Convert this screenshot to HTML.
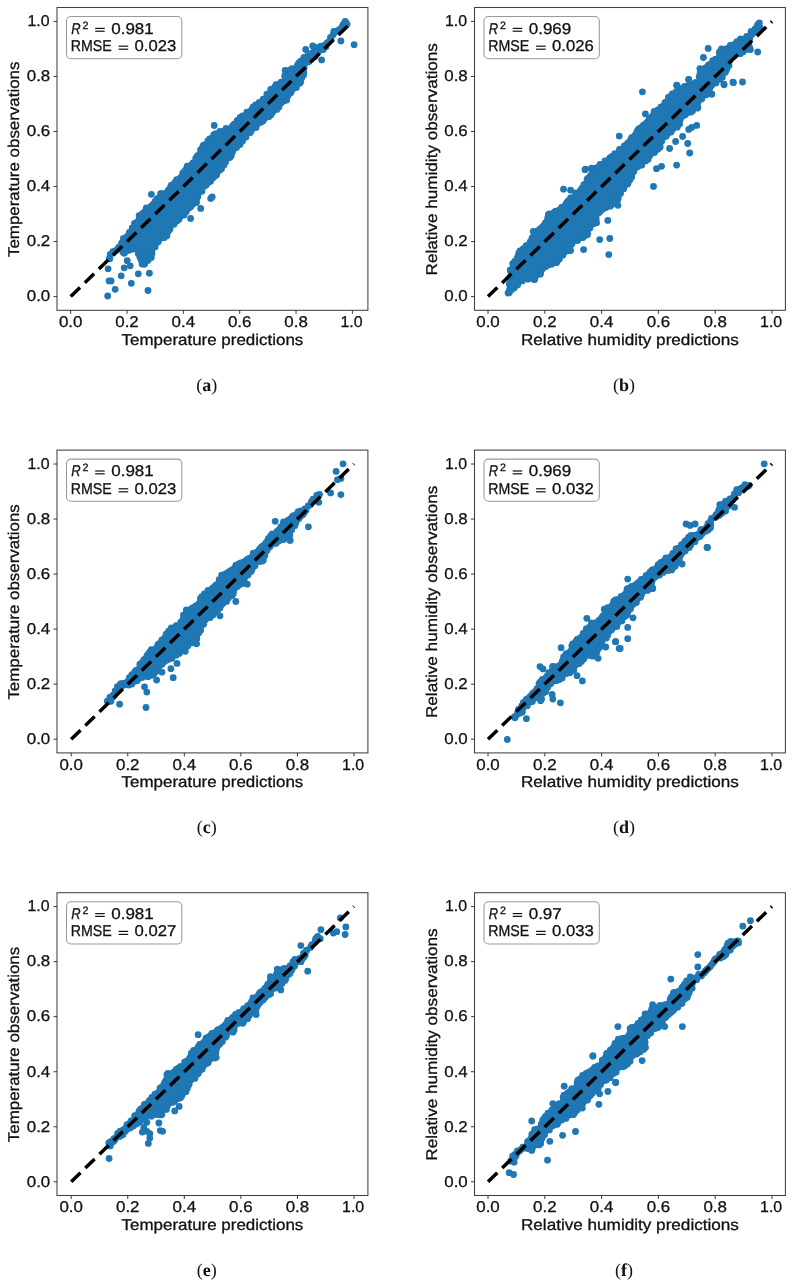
<!DOCTYPE html>
<html><head><meta charset="utf-8"><style>
html,body{margin:0;padding:0;background:#fff;width:795px;height:1283px;overflow:hidden}
svg{display:block;will-change:transform}
</style></head><body>
<svg width="795" height="1283" viewBox="0 0 795 1283" text-rendering="geometricPrecision">
<rect width="795" height="1283" fill="#fff"/>
<clipPath id="cpa"><rect x="57.0" y="7.5" width="310.90" height="302.80"/></clipPath>
<g clip-path="url(#cpa)">
<polygon points="105.7,256.7 111.1,249.7 117.2,242.6 120.2,237.6 126.2,231.6 129.2,226.5 133.3,220.5 137.3,213.5 140.3,209.4 148.4,202.4 152.4,198.4 158.4,191.3 164.5,188.3 167.5,183.3 173.5,178.2 178.5,173.2 182.6,166.2 188.6,161.1 192.1,158.7 200.1,144.6 206.2,136.5 212.2,132.5 220.2,127.5 228.3,124.5 236.3,116.4 244.4,110.4 248.4,106.3 260.5,98.3 266.5,90.2 272.6,82.2 280.6,78.2 282.1,68.9 287.7,66.1 293.2,64.7 297.4,57.8 302.9,55.0 311.2,48.1 312.6,42.6 318.1,43.3 323.6,40.5 330.6,35.7 331.3,28.8 337.5,26.0 343.0,19.1 348.6,21.8 349.9,23.2 344.4,28.8 334.7,38.4 330.6,45.4 325.0,52.3 319.5,56.4 315.3,60.6 308.4,66.1 307.0,77.2 302.9,84.1 296.0,92.4 287.7,103.5 280.0,110.0 274.6,116.4 264.5,124.5 256.5,130.5 250.4,136.5 244.4,144.6 238.4,150.6 232.3,158.7 224.3,170.7 218.2,178.8 210.2,186.8 206.7,190.0 202.7,195.0 199.7,204.4 192.6,210.4 186.6,216.5 180.6,222.5 174.5,228.5 170.5,236.6 162.4,242.6 156.4,250.7 154.4,258.7 148.4,264.8 142.3,268.8 137.3,260.8 135.3,252.7 130.2,254.7 124.2,256.7 118.2,252.7 112.1,256.7 107.1,260.7" fill="#1f77b4" stroke="#fff" stroke-width="2.4" stroke-linejoin="round"/>
<circle cx="109.4" cy="258.5" r="3.4" fill="#1f77b4"/>
<circle cx="113.2" cy="253.0" r="3.4" fill="#1f77b4"/>
<circle cx="115.6" cy="250.7" r="3.4" fill="#1f77b4"/>
<circle cx="118.7" cy="247.3" r="3.4" fill="#1f77b4"/>
<circle cx="121.6" cy="243.2" r="3.4" fill="#1f77b4"/>
<circle cx="123.4" cy="238.3" r="3.4" fill="#1f77b4"/>
<circle cx="127.1" cy="236.3" r="3.4" fill="#1f77b4"/>
<circle cx="129.3" cy="232.5" r="3.4" fill="#1f77b4"/>
<circle cx="132.2" cy="227.9" r="3.4" fill="#1f77b4"/>
<circle cx="134.5" cy="223.4" r="3.4" fill="#1f77b4"/>
<circle cx="137.2" cy="222.1" r="3.4" fill="#1f77b4"/>
<circle cx="139.1" cy="215.7" r="3.4" fill="#1f77b4"/>
<circle cx="141.8" cy="214.1" r="3.4" fill="#1f77b4"/>
<circle cx="146.6" cy="209.1" r="3.4" fill="#1f77b4"/>
<circle cx="146.3" cy="207.9" r="3.4" fill="#1f77b4"/>
<circle cx="155.2" cy="201.4" r="3.4" fill="#1f77b4"/>
<circle cx="157.0" cy="199.0" r="3.4" fill="#1f77b4"/>
<circle cx="160.6" cy="193.7" r="3.4" fill="#1f77b4"/>
<circle cx="161.5" cy="193.6" r="3.4" fill="#1f77b4"/>
<circle cx="168.4" cy="190.3" r="3.4" fill="#1f77b4"/>
<circle cx="171.1" cy="185.5" r="3.4" fill="#1f77b4"/>
<circle cx="175.0" cy="182.3" r="3.4" fill="#1f77b4"/>
<circle cx="176.6" cy="179.7" r="3.4" fill="#1f77b4"/>
<circle cx="182.7" cy="173.2" r="3.4" fill="#1f77b4"/>
<circle cx="184.5" cy="171.5" r="3.4" fill="#1f77b4"/>
<circle cx="187.2" cy="166.1" r="3.4" fill="#1f77b4"/>
<circle cx="188.5" cy="166.7" r="3.4" fill="#1f77b4"/>
<circle cx="192.9" cy="163.0" r="3.4" fill="#1f77b4"/>
<circle cx="195.8" cy="158.2" r="3.4" fill="#1f77b4"/>
<circle cx="197.5" cy="155.7" r="3.4" fill="#1f77b4"/>
<circle cx="200.5" cy="149.9" r="3.4" fill="#1f77b4"/>
<circle cx="202.8" cy="146.4" r="3.4" fill="#1f77b4"/>
<circle cx="203.6" cy="145.1" r="3.4" fill="#1f77b4"/>
<circle cx="208.0" cy="140.9" r="3.4" fill="#1f77b4"/>
<circle cx="209.7" cy="138.8" r="3.4" fill="#1f77b4"/>
<circle cx="213.7" cy="135.0" r="3.4" fill="#1f77b4"/>
<circle cx="215.6" cy="133.6" r="3.4" fill="#1f77b4"/>
<circle cx="219.8" cy="131.4" r="3.4" fill="#1f77b4"/>
<circle cx="225.6" cy="129.8" r="3.4" fill="#1f77b4"/>
<circle cx="226.1" cy="128.3" r="3.4" fill="#1f77b4"/>
<circle cx="232.3" cy="126.2" r="3.4" fill="#1f77b4"/>
<circle cx="234.1" cy="124.1" r="3.4" fill="#1f77b4"/>
<circle cx="237.3" cy="120.3" r="3.4" fill="#1f77b4"/>
<circle cx="240.2" cy="117.3" r="3.4" fill="#1f77b4"/>
<circle cx="242.6" cy="116.0" r="3.4" fill="#1f77b4"/>
<circle cx="246.9" cy="112.1" r="3.4" fill="#1f77b4"/>
<circle cx="253.1" cy="106.9" r="3.4" fill="#1f77b4"/>
<circle cx="255.6" cy="105.0" r="3.4" fill="#1f77b4"/>
<circle cx="259.0" cy="104.2" r="3.4" fill="#1f77b4"/>
<circle cx="259.2" cy="102.3" r="3.4" fill="#1f77b4"/>
<circle cx="263.2" cy="99.1" r="3.4" fill="#1f77b4"/>
<circle cx="266.9" cy="94.2" r="3.4" fill="#1f77b4"/>
<circle cx="270.7" cy="89.4" r="3.4" fill="#1f77b4"/>
<circle cx="272.9" cy="88.8" r="3.4" fill="#1f77b4"/>
<circle cx="276.0" cy="84.7" r="3.4" fill="#1f77b4"/>
<circle cx="281.2" cy="82.2" r="3.4" fill="#1f77b4"/>
<circle cx="284.7" cy="75.9" r="3.4" fill="#1f77b4"/>
<circle cx="285.2" cy="70.5" r="3.4" fill="#1f77b4"/>
<circle cx="286.3" cy="70.8" r="3.4" fill="#1f77b4"/>
<circle cx="291.9" cy="68.7" r="3.4" fill="#1f77b4"/>
<circle cx="297.3" cy="65.4" r="3.4" fill="#1f77b4"/>
<circle cx="298.8" cy="62.9" r="3.4" fill="#1f77b4"/>
<circle cx="303.9" cy="57.4" r="3.4" fill="#1f77b4"/>
<circle cx="307.4" cy="56.2" r="3.4" fill="#1f77b4"/>
<circle cx="310.7" cy="53.6" r="3.4" fill="#1f77b4"/>
<circle cx="314.9" cy="48.1" r="3.4" fill="#1f77b4"/>
<circle cx="312.7" cy="45.9" r="3.4" fill="#1f77b4"/>
<circle cx="320.3" cy="46.4" r="3.4" fill="#1f77b4"/>
<circle cx="328.9" cy="41.8" r="3.4" fill="#1f77b4"/>
<circle cx="331.1" cy="38.9" r="3.4" fill="#1f77b4"/>
<circle cx="333.9" cy="31.3" r="3.4" fill="#1f77b4"/>
<circle cx="334.3" cy="31.3" r="3.4" fill="#1f77b4"/>
<circle cx="342.4" cy="26.2" r="3.4" fill="#1f77b4"/>
<circle cx="345.2" cy="21.4" r="3.4" fill="#1f77b4"/>
<circle cx="343.6" cy="23.8" r="3.4" fill="#1f77b4"/>
<circle cx="347.0" cy="24.2" r="3.4" fill="#1f77b4"/>
<circle cx="345.8" cy="22.8" r="3.4" fill="#1f77b4"/>
<circle cx="343.2" cy="25.0" r="3.4" fill="#1f77b4"/>
<circle cx="339.9" cy="29.1" r="3.4" fill="#1f77b4"/>
<circle cx="337.2" cy="30.8" r="3.4" fill="#1f77b4"/>
<circle cx="333.3" cy="34.5" r="3.4" fill="#1f77b4"/>
<circle cx="330.5" cy="37.3" r="3.4" fill="#1f77b4"/>
<circle cx="327.2" cy="42.9" r="3.4" fill="#1f77b4"/>
<circle cx="325.9" cy="46.8" r="3.4" fill="#1f77b4"/>
<circle cx="323.1" cy="49.7" r="3.4" fill="#1f77b4"/>
<circle cx="317.8" cy="52.3" r="3.4" fill="#1f77b4"/>
<circle cx="314.9" cy="56.8" r="3.4" fill="#1f77b4"/>
<circle cx="311.3" cy="58.7" r="3.4" fill="#1f77b4"/>
<circle cx="308.3" cy="61.9" r="3.4" fill="#1f77b4"/>
<circle cx="304.2" cy="67.4" r="3.4" fill="#1f77b4"/>
<circle cx="303.8" cy="72.2" r="3.4" fill="#1f77b4"/>
<circle cx="303.5" cy="75.1" r="3.4" fill="#1f77b4"/>
<circle cx="301.5" cy="78.2" r="3.4" fill="#1f77b4"/>
<circle cx="300.6" cy="81.9" r="3.4" fill="#1f77b4"/>
<circle cx="299.8" cy="83.2" r="3.4" fill="#1f77b4"/>
<circle cx="296.4" cy="87.5" r="3.4" fill="#1f77b4"/>
<circle cx="290.8" cy="92.7" r="3.4" fill="#1f77b4"/>
<circle cx="287.2" cy="97.1" r="3.4" fill="#1f77b4"/>
<circle cx="286.7" cy="99.9" r="3.4" fill="#1f77b4"/>
<circle cx="284.5" cy="100.7" r="3.4" fill="#1f77b4"/>
<circle cx="279.0" cy="107.1" r="3.4" fill="#1f77b4"/>
<circle cx="276.8" cy="109.4" r="3.4" fill="#1f77b4"/>
<circle cx="272.4" cy="112.5" r="3.4" fill="#1f77b4"/>
<circle cx="270.8" cy="115.1" r="3.4" fill="#1f77b4"/>
<circle cx="268.8" cy="116.7" r="3.4" fill="#1f77b4"/>
<circle cx="263.2" cy="120.7" r="3.4" fill="#1f77b4"/>
<circle cx="261.4" cy="122.0" r="3.4" fill="#1f77b4"/>
<circle cx="256.1" cy="127.5" r="3.4" fill="#1f77b4"/>
<circle cx="251.4" cy="130.3" r="3.4" fill="#1f77b4"/>
<circle cx="250.4" cy="132.5" r="3.4" fill="#1f77b4"/>
<circle cx="246.0" cy="137.1" r="3.4" fill="#1f77b4"/>
<circle cx="242.5" cy="141.1" r="3.4" fill="#1f77b4"/>
<circle cx="240.0" cy="144.4" r="3.4" fill="#1f77b4"/>
<circle cx="236.6" cy="147.4" r="3.4" fill="#1f77b4"/>
<circle cx="232.3" cy="152.2" r="3.4" fill="#1f77b4"/>
<circle cx="231.2" cy="155.8" r="3.4" fill="#1f77b4"/>
<circle cx="229.9" cy="157.5" r="3.4" fill="#1f77b4"/>
<circle cx="225.6" cy="162.0" r="3.4" fill="#1f77b4"/>
<circle cx="224.0" cy="165.0" r="3.4" fill="#1f77b4"/>
<circle cx="221.5" cy="168.8" r="3.4" fill="#1f77b4"/>
<circle cx="219.8" cy="170.1" r="3.4" fill="#1f77b4"/>
<circle cx="216.6" cy="175.0" r="3.4" fill="#1f77b4"/>
<circle cx="213.6" cy="177.2" r="3.4" fill="#1f77b4"/>
<circle cx="210.6" cy="181.2" r="3.4" fill="#1f77b4"/>
<circle cx="208.7" cy="182.1" r="3.4" fill="#1f77b4"/>
<circle cx="205.9" cy="185.3" r="3.4" fill="#1f77b4"/>
<circle cx="201.9" cy="191.2" r="3.4" fill="#1f77b4"/>
<circle cx="197.8" cy="196.5" r="3.4" fill="#1f77b4"/>
<circle cx="196.5" cy="202.6" r="3.4" fill="#1f77b4"/>
<circle cx="195.4" cy="202.6" r="3.4" fill="#1f77b4"/>
<circle cx="191.1" cy="206.3" r="3.4" fill="#1f77b4"/>
<circle cx="189.7" cy="207.6" r="3.4" fill="#1f77b4"/>
<circle cx="186.2" cy="211.8" r="3.4" fill="#1f77b4"/>
<circle cx="183.9" cy="215.2" r="3.4" fill="#1f77b4"/>
<circle cx="179.0" cy="219.2" r="3.4" fill="#1f77b4"/>
<circle cx="177.2" cy="220.8" r="3.4" fill="#1f77b4"/>
<circle cx="174.1" cy="224.2" r="3.4" fill="#1f77b4"/>
<circle cx="169.9" cy="229.2" r="3.4" fill="#1f77b4"/>
<circle cx="168.4" cy="231.0" r="3.4" fill="#1f77b4"/>
<circle cx="166.9" cy="235.8" r="3.4" fill="#1f77b4"/>
<circle cx="164.1" cy="237.7" r="3.4" fill="#1f77b4"/>
<circle cx="158.3" cy="241.7" r="3.4" fill="#1f77b4"/>
<circle cx="155.1" cy="246.9" r="3.4" fill="#1f77b4"/>
<circle cx="152.0" cy="253.4" r="3.4" fill="#1f77b4"/>
<circle cx="151.3" cy="257.5" r="3.4" fill="#1f77b4"/>
<circle cx="149.2" cy="258.5" r="3.4" fill="#1f77b4"/>
<circle cx="147.9" cy="260.6" r="3.4" fill="#1f77b4"/>
<circle cx="144.7" cy="264.0" r="3.4" fill="#1f77b4"/>
<circle cx="142.1" cy="264.1" r="3.4" fill="#1f77b4"/>
<circle cx="144.0" cy="264.1" r="3.4" fill="#1f77b4"/>
<circle cx="141.2" cy="260.0" r="3.4" fill="#1f77b4"/>
<circle cx="140.0" cy="257.2" r="3.4" fill="#1f77b4"/>
<circle cx="138.3" cy="253.7" r="3.4" fill="#1f77b4"/>
<circle cx="133.7" cy="249.1" r="3.4" fill="#1f77b4"/>
<circle cx="124.2" cy="253.4" r="3.4" fill="#1f77b4"/>
<circle cx="123.7" cy="252.4" r="3.4" fill="#1f77b4"/>
<circle cx="122.8" cy="251.9" r="3.4" fill="#1f77b4"/>
<circle cx="113.6" cy="251.8" r="3.4" fill="#1f77b4"/>
<circle cx="112.9" cy="251.6" r="3.4" fill="#1f77b4"/>
<circle cx="110.2" cy="254.4" r="3.4" fill="#1f77b4"/>
<circle cx="109.8" cy="258.8" r="3.4" fill="#1f77b4"/>
<circle cx="108.1" cy="268.8" r="3.4" fill="#1f77b4"/>
<circle cx="109.1" cy="280.9" r="3.4" fill="#1f77b4"/>
<circle cx="111.1" cy="280.9" r="3.4" fill="#1f77b4"/>
<circle cx="121.2" cy="275.8" r="3.4" fill="#1f77b4"/>
<circle cx="115.2" cy="289.3" r="3.4" fill="#1f77b4"/>
<circle cx="107.7" cy="296.0" r="3.4" fill="#1f77b4"/>
<circle cx="131.3" cy="283.3" r="3.4" fill="#1f77b4"/>
<circle cx="138.3" cy="273.8" r="3.4" fill="#1f77b4"/>
<circle cx="149.4" cy="273.2" r="3.4" fill="#1f77b4"/>
<circle cx="148.0" cy="290.5" r="3.4" fill="#1f77b4"/>
<circle cx="124.2" cy="267.8" r="3.4" fill="#1f77b4"/>
<circle cx="127.2" cy="260.7" r="3.4" fill="#1f77b4"/>
<circle cx="130.2" cy="265.8" r="3.4" fill="#1f77b4"/>
<circle cx="151.4" cy="194.3" r="3.4" fill="#1f77b4"/>
<circle cx="210.7" cy="198.4" r="3.4" fill="#1f77b4"/>
<circle cx="190.6" cy="218.5" r="3.4" fill="#1f77b4"/>
<circle cx="200.7" cy="208.4" r="3.4" fill="#1f77b4"/>
<circle cx="214.2" cy="125.5" r="3.4" fill="#1f77b4"/>
<circle cx="212.2" cy="196.9" r="3.4" fill="#1f77b4"/>
<circle cx="305.7" cy="49.5" r="3.4" fill="#1f77b4"/>
<circle cx="340.9" cy="40.9" r="3.4" fill="#1f77b4"/>
<circle cx="354.1" cy="44.7" r="3.4" fill="#1f77b4"/>
<circle cx="321.6" cy="59.9" r="3.4" fill="#1f77b4"/>
<line x1="70.70" y1="296.60" x2="352.40" y2="21.40" stroke="#000" stroke-width="3.5" stroke-dasharray="13 6.7"/>
</g>
<rect x="57.0" y="7.5" width="310.90" height="302.80" fill="none" stroke="#404040" stroke-width="1.05"/>
<line x1="70.70" y1="310.30" x2="70.70" y2="313.80" stroke="#222" stroke-width="0.9"/>
<line x1="53.50" y1="296.60" x2="57.00" y2="296.60" stroke="#222" stroke-width="0.9"/>
<text x="70.70" y="326.90" text-anchor="middle" font-size="15.6" fill="#111" stroke="#111" stroke-width="0.3" font-family="Liberation Sans, sans-serif" textLength="23.5" lengthAdjust="spacingAndGlyphs">0.0</text>
<text x="50.26" y="301.40" text-anchor="end" font-size="15.6" fill="#111" stroke="#111" stroke-width="0.3" font-family="Liberation Sans, sans-serif" textLength="23.5" lengthAdjust="spacingAndGlyphs">0.0</text>
<line x1="127.04" y1="310.30" x2="127.04" y2="313.80" stroke="#222" stroke-width="0.9"/>
<line x1="53.50" y1="241.56" x2="57.00" y2="241.56" stroke="#222" stroke-width="0.9"/>
<text x="127.04" y="326.90" text-anchor="middle" font-size="15.6" fill="#111" stroke="#111" stroke-width="0.3" font-family="Liberation Sans, sans-serif" textLength="23.5" lengthAdjust="spacingAndGlyphs">0.2</text>
<text x="50.26" y="246.36" text-anchor="end" font-size="15.6" fill="#111" stroke="#111" stroke-width="0.3" font-family="Liberation Sans, sans-serif" textLength="23.5" lengthAdjust="spacingAndGlyphs">0.2</text>
<line x1="183.38" y1="310.30" x2="183.38" y2="313.80" stroke="#222" stroke-width="0.9"/>
<line x1="53.50" y1="186.52" x2="57.00" y2="186.52" stroke="#222" stroke-width="0.9"/>
<text x="183.38" y="326.90" text-anchor="middle" font-size="15.6" fill="#111" stroke="#111" stroke-width="0.3" font-family="Liberation Sans, sans-serif" textLength="23.5" lengthAdjust="spacingAndGlyphs">0.4</text>
<text x="50.26" y="191.32" text-anchor="end" font-size="15.6" fill="#111" stroke="#111" stroke-width="0.3" font-family="Liberation Sans, sans-serif" textLength="23.5" lengthAdjust="spacingAndGlyphs">0.4</text>
<line x1="239.72" y1="310.30" x2="239.72" y2="313.80" stroke="#222" stroke-width="0.9"/>
<line x1="53.50" y1="131.48" x2="57.00" y2="131.48" stroke="#222" stroke-width="0.9"/>
<text x="239.72" y="326.90" text-anchor="middle" font-size="15.6" fill="#111" stroke="#111" stroke-width="0.3" font-family="Liberation Sans, sans-serif" textLength="23.5" lengthAdjust="spacingAndGlyphs">0.6</text>
<text x="50.26" y="136.28" text-anchor="end" font-size="15.6" fill="#111" stroke="#111" stroke-width="0.3" font-family="Liberation Sans, sans-serif" textLength="23.5" lengthAdjust="spacingAndGlyphs">0.6</text>
<line x1="296.06" y1="310.30" x2="296.06" y2="313.80" stroke="#222" stroke-width="0.9"/>
<line x1="53.50" y1="76.44" x2="57.00" y2="76.44" stroke="#222" stroke-width="0.9"/>
<text x="296.06" y="326.90" text-anchor="middle" font-size="15.6" fill="#111" stroke="#111" stroke-width="0.3" font-family="Liberation Sans, sans-serif" textLength="23.5" lengthAdjust="spacingAndGlyphs">0.8</text>
<text x="50.26" y="81.24" text-anchor="end" font-size="15.6" fill="#111" stroke="#111" stroke-width="0.3" font-family="Liberation Sans, sans-serif" textLength="23.5" lengthAdjust="spacingAndGlyphs">0.8</text>
<line x1="352.40" y1="310.30" x2="352.40" y2="313.80" stroke="#222" stroke-width="0.9"/>
<line x1="53.50" y1="21.40" x2="57.00" y2="21.40" stroke="#222" stroke-width="0.9"/>
<text x="351.50" y="326.90" text-anchor="middle" font-size="15.6" fill="#111" stroke="#111" stroke-width="0.3" font-family="Liberation Sans, sans-serif" textLength="22.1" lengthAdjust="spacingAndGlyphs">1.0</text>
<text x="49.60" y="26.20" text-anchor="end" font-size="15.6" fill="#111" stroke="#111" stroke-width="0.3" font-family="Liberation Sans, sans-serif" textLength="22.1" lengthAdjust="spacingAndGlyphs">1.0</text>
<text x="212.45" y="344.80" text-anchor="middle" font-size="15.6" fill="#111" stroke="#111" stroke-width="0.3" font-family="Liberation Sans, sans-serif" textLength="181.7" lengthAdjust="spacingAndGlyphs">Temperature predictions</text>
<text transform="translate(19.00,159.30) rotate(-90)" text-anchor="middle" font-size="15.6" fill="#111" stroke="#111" stroke-width="0.3" font-family="Liberation Sans, sans-serif" textLength="195.4" lengthAdjust="spacingAndGlyphs">Temperature observations</text>
<rect x="66.50" y="16.50" width="115.3" height="42.2" rx="4.5" fill="#fff" fill-opacity="0.8" stroke="#999" stroke-width="1.05"/>
<text x="71.20" y="33.50" font-size="15.6" font-style="italic" fill="#111" stroke="#111" stroke-width="0.3" font-family="Liberation Sans, sans-serif" textLength="9.4" lengthAdjust="spacingAndGlyphs">R</text>
<text x="82.40" y="28.80" font-size="10.7" fill="#111" stroke="#111" stroke-width="0.3" font-family="Liberation Sans, sans-serif">2</text>
<rect x="95.20" y="27.80" width="9.5" height="1.2" fill="#111"/>
<rect x="95.20" y="30.60" width="9.5" height="1.2" fill="#111"/>
<text x="111.24" y="33.50" font-size="15.6" fill="#111" stroke="#111" stroke-width="0.3" font-family="Liberation Sans, sans-serif" textLength="42.49" lengthAdjust="spacingAndGlyphs">0.981</text>
<text x="70.63" y="51.10" font-size="15.6" fill="#111" stroke="#111" stroke-width="0.3" font-family="Liberation Sans, sans-serif" textLength="41.07" lengthAdjust="spacingAndGlyphs">RMSE</text>
<rect x="118.60" y="45.60" width="9.6" height="1.2" fill="#111"/>
<rect x="118.60" y="48.60" width="9.6" height="1.2" fill="#111"/>
<text x="134.55" y="51.10" font-size="15.6" fill="#111" stroke="#111" stroke-width="0.3" font-family="Liberation Sans, sans-serif" textLength="41.69" lengthAdjust="spacingAndGlyphs">0.023</text>
<text x="206.70" y="390.80" text-anchor="middle" font-size="18" fill="#111" font-family="Liberation Serif, serif">(<tspan font-weight="bold">a</tspan>)</text>
<clipPath id="cpb"><rect x="474.5" y="7.5" width="310.90" height="302.80"/></clipPath>
<g clip-path="url(#cpb)">
<polygon points="505.2,294.9 506.2,280.8 507.2,270.7 510.2,261.7 515.2,252.6 520.2,246.6 526.3,240.6 530.3,232.5 536.4,226.5 542.4,220.4 546.4,212.4 552.4,208.4 560.5,204.3 564.5,198.3 572.6,192.3 580.6,184.2 584.6,176.2 590.0,168.0 598.1,162.6 608.2,154.6 614.2,150.6 622.3,142.5 628.3,136.5 634.3,128.4 640.4,122.4 646.4,116.4 652.4,108.3 660.5,104.3 664.5,98.2 668.5,92.2 676.6,88.2 682.6,84.1 688.7,80.1 695.8,78.6 698.5,68.9 705.4,62.0 715.1,55.0 716.5,48.1 726.2,44.0 733.1,39.8 738.7,36.4 745.6,33.6 749.7,28.8 756.6,21.8 760.8,21.8 764.9,27.4 760.8,32.9 753.9,38.4 751.1,49.5 744.2,55.0 734.5,60.6 730.3,68.9 726.2,77.2 719.3,84.1 712.4,91.0 708.2,96.6 702.7,102.1 699.9,110.4 692.7,114.3 684.6,120.4 680.6,128.4 674.6,132.5 666.5,140.5 662.5,148.5 654.5,156.6 646.4,164.6 637.5,172.5 633.0,182.5 624.9,192.3 618.9,204.3 608.8,210.4 600.7,216.4 598.7,226.5 592.7,228.5 590.7,236.5 584.6,240.6 576.6,244.6 570.6,252.6 564.5,258.7 556.5,264.7 548.4,268.7 542.4,276.8 534.3,282.8 524.3,282.8 516.2,290.9 512.2,294.9 508.2,296.9" fill="#1f77b4" stroke="#fff" stroke-width="2.4" stroke-linejoin="round"/>
<circle cx="509.1" cy="292.2" r="3.4" fill="#1f77b4"/>
<circle cx="509.7" cy="289.4" r="3.4" fill="#1f77b4"/>
<circle cx="509.2" cy="284.1" r="3.4" fill="#1f77b4"/>
<circle cx="509.8" cy="277.5" r="3.4" fill="#1f77b4"/>
<circle cx="510.6" cy="271.3" r="3.4" fill="#1f77b4"/>
<circle cx="510.3" cy="269.9" r="3.4" fill="#1f77b4"/>
<circle cx="512.7" cy="263.7" r="3.4" fill="#1f77b4"/>
<circle cx="514.7" cy="261.5" r="3.4" fill="#1f77b4"/>
<circle cx="517.6" cy="257.1" r="3.4" fill="#1f77b4"/>
<circle cx="518.7" cy="253.5" r="3.4" fill="#1f77b4"/>
<circle cx="520.0" cy="251.0" r="3.4" fill="#1f77b4"/>
<circle cx="523.1" cy="248.8" r="3.4" fill="#1f77b4"/>
<circle cx="526.1" cy="245.7" r="3.4" fill="#1f77b4"/>
<circle cx="530.2" cy="241.8" r="3.4" fill="#1f77b4"/>
<circle cx="532.0" cy="238.2" r="3.4" fill="#1f77b4"/>
<circle cx="536.2" cy="232.8" r="3.4" fill="#1f77b4"/>
<circle cx="537.6" cy="231.0" r="3.4" fill="#1f77b4"/>
<circle cx="540.0" cy="229.0" r="3.4" fill="#1f77b4"/>
<circle cx="545.1" cy="223.2" r="3.4" fill="#1f77b4"/>
<circle cx="547.7" cy="218.2" r="3.4" fill="#1f77b4"/>
<circle cx="549.3" cy="214.0" r="3.4" fill="#1f77b4"/>
<circle cx="548.3" cy="214.7" r="3.4" fill="#1f77b4"/>
<circle cx="554.3" cy="212.1" r="3.4" fill="#1f77b4"/>
<circle cx="555.7" cy="211.1" r="3.4" fill="#1f77b4"/>
<circle cx="561.6" cy="207.4" r="3.4" fill="#1f77b4"/>
<circle cx="564.7" cy="205.9" r="3.4" fill="#1f77b4"/>
<circle cx="566.8" cy="202.6" r="3.4" fill="#1f77b4"/>
<circle cx="568.1" cy="201.0" r="3.4" fill="#1f77b4"/>
<circle cx="570.6" cy="197.8" r="3.4" fill="#1f77b4"/>
<circle cx="575.7" cy="193.0" r="3.4" fill="#1f77b4"/>
<circle cx="580.5" cy="190.4" r="3.4" fill="#1f77b4"/>
<circle cx="581.8" cy="188.5" r="3.4" fill="#1f77b4"/>
<circle cx="583.9" cy="184.6" r="3.4" fill="#1f77b4"/>
<circle cx="587.1" cy="179.1" r="3.4" fill="#1f77b4"/>
<circle cx="588.5" cy="178.2" r="3.4" fill="#1f77b4"/>
<circle cx="593.1" cy="170.1" r="3.4" fill="#1f77b4"/>
<circle cx="595.5" cy="168.2" r="3.4" fill="#1f77b4"/>
<circle cx="597.9" cy="167.3" r="3.4" fill="#1f77b4"/>
<circle cx="600.0" cy="164.5" r="3.4" fill="#1f77b4"/>
<circle cx="605.0" cy="160.9" r="3.4" fill="#1f77b4"/>
<circle cx="609.7" cy="158.2" r="3.4" fill="#1f77b4"/>
<circle cx="611.4" cy="156.7" r="3.4" fill="#1f77b4"/>
<circle cx="614.8" cy="153.6" r="3.4" fill="#1f77b4"/>
<circle cx="619.2" cy="151.4" r="3.4" fill="#1f77b4"/>
<circle cx="619.5" cy="149.4" r="3.4" fill="#1f77b4"/>
<circle cx="624.3" cy="145.8" r="3.4" fill="#1f77b4"/>
<circle cx="627.8" cy="143.2" r="3.4" fill="#1f77b4"/>
<circle cx="630.5" cy="140.4" r="3.4" fill="#1f77b4"/>
<circle cx="631.6" cy="137.6" r="3.4" fill="#1f77b4"/>
<circle cx="637.1" cy="131.2" r="3.4" fill="#1f77b4"/>
<circle cx="638.6" cy="128.8" r="3.4" fill="#1f77b4"/>
<circle cx="641.0" cy="127.7" r="3.4" fill="#1f77b4"/>
<circle cx="643.5" cy="125.2" r="3.4" fill="#1f77b4"/>
<circle cx="649.0" cy="119.9" r="3.4" fill="#1f77b4"/>
<circle cx="649.4" cy="118.4" r="3.4" fill="#1f77b4"/>
<circle cx="654.2" cy="111.4" r="3.4" fill="#1f77b4"/>
<circle cx="657.9" cy="109.8" r="3.4" fill="#1f77b4"/>
<circle cx="661.0" cy="107.0" r="3.4" fill="#1f77b4"/>
<circle cx="664.8" cy="103.0" r="3.4" fill="#1f77b4"/>
<circle cx="665.9" cy="102.1" r="3.4" fill="#1f77b4"/>
<circle cx="668.3" cy="97.5" r="3.4" fill="#1f77b4"/>
<circle cx="670.8" cy="96.2" r="3.4" fill="#1f77b4"/>
<circle cx="672.3" cy="93.9" r="3.4" fill="#1f77b4"/>
<circle cx="676.1" cy="91.7" r="3.4" fill="#1f77b4"/>
<circle cx="678.8" cy="90.8" r="3.4" fill="#1f77b4"/>
<circle cx="682.4" cy="88.6" r="3.4" fill="#1f77b4"/>
<circle cx="684.5" cy="86.3" r="3.4" fill="#1f77b4"/>
<circle cx="690.0" cy="84.1" r="3.4" fill="#1f77b4"/>
<circle cx="690.0" cy="84.0" r="3.4" fill="#1f77b4"/>
<circle cx="695.8" cy="82.5" r="3.4" fill="#1f77b4"/>
<circle cx="699.2" cy="76.7" r="3.4" fill="#1f77b4"/>
<circle cx="700.1" cy="73.0" r="3.4" fill="#1f77b4"/>
<circle cx="704.4" cy="68.8" r="3.4" fill="#1f77b4"/>
<circle cx="705.1" cy="68.1" r="3.4" fill="#1f77b4"/>
<circle cx="708.7" cy="65.0" r="3.4" fill="#1f77b4"/>
<circle cx="712.8" cy="60.7" r="3.4" fill="#1f77b4"/>
<circle cx="715.7" cy="59.2" r="3.4" fill="#1f77b4"/>
<circle cx="719.3" cy="52.3" r="3.4" fill="#1f77b4"/>
<circle cx="721.5" cy="49.0" r="3.4" fill="#1f77b4"/>
<circle cx="724.8" cy="49.3" r="3.4" fill="#1f77b4"/>
<circle cx="730.3" cy="45.5" r="3.4" fill="#1f77b4"/>
<circle cx="731.7" cy="45.3" r="3.4" fill="#1f77b4"/>
<circle cx="736.9" cy="41.6" r="3.4" fill="#1f77b4"/>
<circle cx="740.6" cy="38.8" r="3.4" fill="#1f77b4"/>
<circle cx="746.7" cy="36.5" r="3.4" fill="#1f77b4"/>
<circle cx="751.1" cy="31.5" r="3.4" fill="#1f77b4"/>
<circle cx="755.3" cy="28.7" r="3.4" fill="#1f77b4"/>
<circle cx="757.8" cy="25.5" r="3.4" fill="#1f77b4"/>
<circle cx="757.7" cy="24.6" r="3.4" fill="#1f77b4"/>
<circle cx="759.8" cy="27.6" r="3.4" fill="#1f77b4"/>
<circle cx="759.8" cy="27.8" r="3.4" fill="#1f77b4"/>
<circle cx="757.7" cy="30.8" r="3.4" fill="#1f77b4"/>
<circle cx="751.8" cy="34.6" r="3.4" fill="#1f77b4"/>
<circle cx="749.7" cy="39.2" r="3.4" fill="#1f77b4"/>
<circle cx="748.6" cy="44.1" r="3.4" fill="#1f77b4"/>
<circle cx="749.2" cy="46.1" r="3.4" fill="#1f77b4"/>
<circle cx="746.7" cy="49.4" r="3.4" fill="#1f77b4"/>
<circle cx="743.2" cy="51.7" r="3.4" fill="#1f77b4"/>
<circle cx="740.5" cy="53.5" r="3.4" fill="#1f77b4"/>
<circle cx="738.9" cy="53.8" r="3.4" fill="#1f77b4"/>
<circle cx="733.7" cy="56.6" r="3.4" fill="#1f77b4"/>
<circle cx="730.0" cy="60.2" r="3.4" fill="#1f77b4"/>
<circle cx="729.0" cy="65.6" r="3.4" fill="#1f77b4"/>
<circle cx="727.0" cy="69.0" r="3.4" fill="#1f77b4"/>
<circle cx="725.4" cy="72.2" r="3.4" fill="#1f77b4"/>
<circle cx="722.3" cy="77.3" r="3.4" fill="#1f77b4"/>
<circle cx="720.0" cy="79.3" r="3.4" fill="#1f77b4"/>
<circle cx="716.0" cy="82.9" r="3.4" fill="#1f77b4"/>
<circle cx="710.0" cy="87.7" r="3.4" fill="#1f77b4"/>
<circle cx="706.3" cy="94.7" r="3.4" fill="#1f77b4"/>
<circle cx="705.1" cy="94.9" r="3.4" fill="#1f77b4"/>
<circle cx="701.9" cy="98.8" r="3.4" fill="#1f77b4"/>
<circle cx="698.4" cy="101.5" r="3.4" fill="#1f77b4"/>
<circle cx="697.9" cy="107.4" r="3.4" fill="#1f77b4"/>
<circle cx="697.3" cy="108.2" r="3.4" fill="#1f77b4"/>
<circle cx="692.5" cy="110.9" r="3.4" fill="#1f77b4"/>
<circle cx="690.6" cy="112.2" r="3.4" fill="#1f77b4"/>
<circle cx="685.3" cy="114.8" r="3.4" fill="#1f77b4"/>
<circle cx="680.2" cy="119.6" r="3.4" fill="#1f77b4"/>
<circle cx="679.6" cy="124.0" r="3.4" fill="#1f77b4"/>
<circle cx="677.2" cy="127.2" r="3.4" fill="#1f77b4"/>
<circle cx="672.9" cy="128.9" r="3.4" fill="#1f77b4"/>
<circle cx="671.1" cy="132.0" r="3.4" fill="#1f77b4"/>
<circle cx="667.2" cy="134.2" r="3.4" fill="#1f77b4"/>
<circle cx="666.2" cy="136.3" r="3.4" fill="#1f77b4"/>
<circle cx="661.8" cy="141.0" r="3.4" fill="#1f77b4"/>
<circle cx="660.2" cy="146.8" r="3.4" fill="#1f77b4"/>
<circle cx="659.6" cy="147.5" r="3.4" fill="#1f77b4"/>
<circle cx="657.8" cy="149.3" r="3.4" fill="#1f77b4"/>
<circle cx="654.5" cy="152.5" r="3.4" fill="#1f77b4"/>
<circle cx="649.9" cy="155.4" r="3.4" fill="#1f77b4"/>
<circle cx="648.1" cy="159.2" r="3.4" fill="#1f77b4"/>
<circle cx="645.8" cy="160.9" r="3.4" fill="#1f77b4"/>
<circle cx="641.8" cy="164.9" r="3.4" fill="#1f77b4"/>
<circle cx="640.7" cy="165.2" r="3.4" fill="#1f77b4"/>
<circle cx="637.5" cy="166.7" r="3.4" fill="#1f77b4"/>
<circle cx="633.8" cy="171.5" r="3.4" fill="#1f77b4"/>
<circle cx="631.7" cy="177.1" r="3.4" fill="#1f77b4"/>
<circle cx="630.0" cy="179.7" r="3.4" fill="#1f77b4"/>
<circle cx="628.0" cy="183.2" r="3.4" fill="#1f77b4"/>
<circle cx="627.4" cy="184.2" r="3.4" fill="#1f77b4"/>
<circle cx="623.8" cy="188.8" r="3.4" fill="#1f77b4"/>
<circle cx="620.5" cy="193.4" r="3.4" fill="#1f77b4"/>
<circle cx="618.2" cy="198.6" r="3.4" fill="#1f77b4"/>
<circle cx="617.5" cy="199.9" r="3.4" fill="#1f77b4"/>
<circle cx="615.1" cy="202.5" r="3.4" fill="#1f77b4"/>
<circle cx="612.1" cy="204.5" r="3.4" fill="#1f77b4"/>
<circle cx="610.2" cy="206.2" r="3.4" fill="#1f77b4"/>
<circle cx="606.1" cy="207.6" r="3.4" fill="#1f77b4"/>
<circle cx="599.2" cy="212.6" r="3.4" fill="#1f77b4"/>
<circle cx="596.1" cy="219.3" r="3.4" fill="#1f77b4"/>
<circle cx="596.6" cy="222.7" r="3.4" fill="#1f77b4"/>
<circle cx="593.6" cy="223.8" r="3.4" fill="#1f77b4"/>
<circle cx="590.0" cy="227.9" r="3.4" fill="#1f77b4"/>
<circle cx="587.1" cy="233.3" r="3.4" fill="#1f77b4"/>
<circle cx="587.5" cy="234.7" r="3.4" fill="#1f77b4"/>
<circle cx="585.2" cy="235.6" r="3.4" fill="#1f77b4"/>
<circle cx="583.0" cy="237.5" r="3.4" fill="#1f77b4"/>
<circle cx="577.6" cy="240.5" r="3.4" fill="#1f77b4"/>
<circle cx="571.7" cy="244.2" r="3.4" fill="#1f77b4"/>
<circle cx="569.4" cy="248.8" r="3.4" fill="#1f77b4"/>
<circle cx="567.7" cy="250.8" r="3.4" fill="#1f77b4"/>
<circle cx="562.8" cy="255.2" r="3.4" fill="#1f77b4"/>
<circle cx="559.4" cy="259.0" r="3.4" fill="#1f77b4"/>
<circle cx="557.7" cy="260.4" r="3.4" fill="#1f77b4"/>
<circle cx="551.7" cy="264.2" r="3.4" fill="#1f77b4"/>
<circle cx="548.5" cy="264.9" r="3.4" fill="#1f77b4"/>
<circle cx="545.6" cy="266.7" r="3.4" fill="#1f77b4"/>
<circle cx="540.3" cy="273.3" r="3.4" fill="#1f77b4"/>
<circle cx="540.3" cy="274.2" r="3.4" fill="#1f77b4"/>
<circle cx="534.8" cy="279.1" r="3.4" fill="#1f77b4"/>
<circle cx="534.3" cy="279.7" r="3.4" fill="#1f77b4"/>
<circle cx="528.0" cy="279.2" r="3.4" fill="#1f77b4"/>
<circle cx="522.2" cy="280.9" r="3.4" fill="#1f77b4"/>
<circle cx="517.7" cy="284.8" r="3.4" fill="#1f77b4"/>
<circle cx="514.4" cy="287.7" r="3.4" fill="#1f77b4"/>
<circle cx="511.8" cy="289.4" r="3.4" fill="#1f77b4"/>
<circle cx="508.1" cy="293.0" r="3.4" fill="#1f77b4"/>
<circle cx="509.0" cy="292.7" r="3.4" fill="#1f77b4"/>
<circle cx="563.5" cy="189.2" r="3.4" fill="#1f77b4"/>
<circle cx="570.6" cy="190.2" r="3.4" fill="#1f77b4"/>
<circle cx="585.7" cy="169.1" r="3.4" fill="#1f77b4"/>
<circle cx="591.7" cy="168.1" r="3.4" fill="#1f77b4"/>
<circle cx="533.3" cy="231.5" r="3.4" fill="#1f77b4"/>
<circle cx="607.8" cy="220.4" r="3.4" fill="#1f77b4"/>
<circle cx="599.7" cy="239.6" r="3.4" fill="#1f77b4"/>
<circle cx="609.8" cy="238.5" r="3.4" fill="#1f77b4"/>
<circle cx="608.8" cy="254.6" r="3.4" fill="#1f77b4"/>
<circle cx="583.6" cy="249.6" r="3.4" fill="#1f77b4"/>
<circle cx="570.6" cy="250.6" r="3.4" fill="#1f77b4"/>
<circle cx="556.5" cy="262.7" r="3.4" fill="#1f77b4"/>
<circle cx="617.9" cy="205.3" r="3.4" fill="#1f77b4"/>
<circle cx="642.4" cy="91.8" r="3.4" fill="#1f77b4"/>
<circle cx="619.2" cy="136.1" r="3.4" fill="#1f77b4"/>
<circle cx="676.6" cy="85.2" r="3.4" fill="#1f77b4"/>
<circle cx="688.7" cy="79.5" r="3.4" fill="#1f77b4"/>
<circle cx="645.4" cy="113.9" r="3.4" fill="#1f77b4"/>
<circle cx="592.1" cy="168.7" r="3.4" fill="#1f77b4"/>
<circle cx="585.0" cy="169.7" r="3.4" fill="#1f77b4"/>
<circle cx="732.9" cy="82.1" r="3.4" fill="#1f77b4"/>
<circle cx="723.9" cy="84.1" r="3.4" fill="#1f77b4"/>
<circle cx="711.8" cy="94.2" r="3.4" fill="#1f77b4"/>
<circle cx="696.7" cy="125.4" r="3.4" fill="#1f77b4"/>
<circle cx="691.7" cy="127.4" r="3.4" fill="#1f77b4"/>
<circle cx="688.7" cy="129.4" r="3.4" fill="#1f77b4"/>
<circle cx="675.6" cy="141.5" r="3.4" fill="#1f77b4"/>
<circle cx="687.7" cy="143.5" r="3.4" fill="#1f77b4"/>
<circle cx="689.7" cy="153.0" r="3.4" fill="#1f77b4"/>
<circle cx="676.6" cy="165.1" r="3.4" fill="#1f77b4"/>
<circle cx="661.5" cy="166.3" r="3.4" fill="#1f77b4"/>
<circle cx="656.5" cy="168.7" r="3.4" fill="#1f77b4"/>
<circle cx="653.5" cy="186.4" r="3.4" fill="#1f77b4"/>
<circle cx="669.6" cy="148.5" r="3.4" fill="#1f77b4"/>
<circle cx="682.6" cy="136.5" r="3.4" fill="#1f77b4"/>
<circle cx="708.2" cy="48.4" r="3.4" fill="#1f77b4"/>
<circle cx="703.4" cy="57.5" r="3.4" fill="#1f77b4"/>
<circle cx="688.8" cy="79.7" r="3.4" fill="#1f77b4"/>
<circle cx="677.1" cy="85.5" r="3.4" fill="#1f77b4"/>
<circle cx="699.9" cy="68.6" r="3.4" fill="#1f77b4"/>
<circle cx="759.4" cy="22.9" r="3.4" fill="#1f77b4"/>
<circle cx="757.7" cy="52.0" r="3.4" fill="#1f77b4"/>
<circle cx="733.4" cy="82.7" r="3.4" fill="#1f77b4"/>
<circle cx="742.5" cy="82.0" r="3.4" fill="#1f77b4"/>
<circle cx="724.1" cy="84.8" r="3.4" fill="#1f77b4"/>
<circle cx="711.7" cy="93.8" r="3.4" fill="#1f77b4"/>
<circle cx="750.4" cy="49.5" r="3.4" fill="#1f77b4"/>
<line x1="488.00" y1="296.60" x2="772.00" y2="21.40" stroke="#000" stroke-width="3.5" stroke-dasharray="13 6.7"/>
</g>
<rect x="474.5" y="7.5" width="310.90" height="302.80" fill="none" stroke="#404040" stroke-width="1.05"/>
<line x1="488.00" y1="310.30" x2="488.00" y2="313.80" stroke="#222" stroke-width="0.9"/>
<line x1="471.00" y1="296.60" x2="474.50" y2="296.60" stroke="#222" stroke-width="0.9"/>
<text x="488.00" y="326.90" text-anchor="middle" font-size="15.6" fill="#111" stroke="#111" stroke-width="0.3" font-family="Liberation Sans, sans-serif" textLength="23.5" lengthAdjust="spacingAndGlyphs">0.0</text>
<text x="467.76" y="301.40" text-anchor="end" font-size="15.6" fill="#111" stroke="#111" stroke-width="0.3" font-family="Liberation Sans, sans-serif" textLength="23.5" lengthAdjust="spacingAndGlyphs">0.0</text>
<line x1="544.80" y1="310.30" x2="544.80" y2="313.80" stroke="#222" stroke-width="0.9"/>
<line x1="471.00" y1="241.56" x2="474.50" y2="241.56" stroke="#222" stroke-width="0.9"/>
<text x="544.80" y="326.90" text-anchor="middle" font-size="15.6" fill="#111" stroke="#111" stroke-width="0.3" font-family="Liberation Sans, sans-serif" textLength="23.5" lengthAdjust="spacingAndGlyphs">0.2</text>
<text x="467.76" y="246.36" text-anchor="end" font-size="15.6" fill="#111" stroke="#111" stroke-width="0.3" font-family="Liberation Sans, sans-serif" textLength="23.5" lengthAdjust="spacingAndGlyphs">0.2</text>
<line x1="601.60" y1="310.30" x2="601.60" y2="313.80" stroke="#222" stroke-width="0.9"/>
<line x1="471.00" y1="186.52" x2="474.50" y2="186.52" stroke="#222" stroke-width="0.9"/>
<text x="601.60" y="326.90" text-anchor="middle" font-size="15.6" fill="#111" stroke="#111" stroke-width="0.3" font-family="Liberation Sans, sans-serif" textLength="23.5" lengthAdjust="spacingAndGlyphs">0.4</text>
<text x="467.76" y="191.32" text-anchor="end" font-size="15.6" fill="#111" stroke="#111" stroke-width="0.3" font-family="Liberation Sans, sans-serif" textLength="23.5" lengthAdjust="spacingAndGlyphs">0.4</text>
<line x1="658.40" y1="310.30" x2="658.40" y2="313.80" stroke="#222" stroke-width="0.9"/>
<line x1="471.00" y1="131.48" x2="474.50" y2="131.48" stroke="#222" stroke-width="0.9"/>
<text x="658.40" y="326.90" text-anchor="middle" font-size="15.6" fill="#111" stroke="#111" stroke-width="0.3" font-family="Liberation Sans, sans-serif" textLength="23.5" lengthAdjust="spacingAndGlyphs">0.6</text>
<text x="467.76" y="136.28" text-anchor="end" font-size="15.6" fill="#111" stroke="#111" stroke-width="0.3" font-family="Liberation Sans, sans-serif" textLength="23.5" lengthAdjust="spacingAndGlyphs">0.6</text>
<line x1="715.20" y1="310.30" x2="715.20" y2="313.80" stroke="#222" stroke-width="0.9"/>
<line x1="471.00" y1="76.44" x2="474.50" y2="76.44" stroke="#222" stroke-width="0.9"/>
<text x="715.20" y="326.90" text-anchor="middle" font-size="15.6" fill="#111" stroke="#111" stroke-width="0.3" font-family="Liberation Sans, sans-serif" textLength="23.5" lengthAdjust="spacingAndGlyphs">0.8</text>
<text x="467.76" y="81.24" text-anchor="end" font-size="15.6" fill="#111" stroke="#111" stroke-width="0.3" font-family="Liberation Sans, sans-serif" textLength="23.5" lengthAdjust="spacingAndGlyphs">0.8</text>
<line x1="772.00" y1="310.30" x2="772.00" y2="313.80" stroke="#222" stroke-width="0.9"/>
<line x1="471.00" y1="21.40" x2="474.50" y2="21.40" stroke="#222" stroke-width="0.9"/>
<text x="771.10" y="326.90" text-anchor="middle" font-size="15.6" fill="#111" stroke="#111" stroke-width="0.3" font-family="Liberation Sans, sans-serif" textLength="22.1" lengthAdjust="spacingAndGlyphs">1.0</text>
<text x="467.10" y="26.20" text-anchor="end" font-size="15.6" fill="#111" stroke="#111" stroke-width="0.3" font-family="Liberation Sans, sans-serif" textLength="22.1" lengthAdjust="spacingAndGlyphs">1.0</text>
<text x="629.95" y="344.80" text-anchor="middle" font-size="15.6" fill="#111" stroke="#111" stroke-width="0.3" font-family="Liberation Sans, sans-serif" textLength="218.0" lengthAdjust="spacingAndGlyphs">Relative humidity predictions</text>
<text transform="translate(436.50,159.30) rotate(-90)" text-anchor="middle" font-size="15.6" fill="#111" stroke="#111" stroke-width="0.3" font-family="Liberation Sans, sans-serif" textLength="232.3" lengthAdjust="spacingAndGlyphs">Relative humidity observations</text>
<rect x="484.00" y="16.50" width="115.3" height="42.2" rx="4.5" fill="#fff" fill-opacity="0.8" stroke="#999" stroke-width="1.05"/>
<text x="488.70" y="33.50" font-size="15.6" font-style="italic" fill="#111" stroke="#111" stroke-width="0.3" font-family="Liberation Sans, sans-serif" textLength="9.4" lengthAdjust="spacingAndGlyphs">R</text>
<text x="499.90" y="28.80" font-size="10.7" fill="#111" stroke="#111" stroke-width="0.3" font-family="Liberation Sans, sans-serif">2</text>
<rect x="512.70" y="27.80" width="9.5" height="1.2" fill="#111"/>
<rect x="512.70" y="30.60" width="9.5" height="1.2" fill="#111"/>
<text x="528.74" y="33.50" font-size="15.6" fill="#111" stroke="#111" stroke-width="0.3" font-family="Liberation Sans, sans-serif" textLength="42.49" lengthAdjust="spacingAndGlyphs">0.969</text>
<text x="488.13" y="51.10" font-size="15.6" fill="#111" stroke="#111" stroke-width="0.3" font-family="Liberation Sans, sans-serif" textLength="41.07" lengthAdjust="spacingAndGlyphs">RMSE</text>
<rect x="536.10" y="45.60" width="9.6" height="1.2" fill="#111"/>
<rect x="536.10" y="48.60" width="9.6" height="1.2" fill="#111"/>
<text x="552.05" y="51.10" font-size="15.6" fill="#111" stroke="#111" stroke-width="0.3" font-family="Liberation Sans, sans-serif" textLength="41.69" lengthAdjust="spacingAndGlyphs">0.026</text>
<text x="624.00" y="390.80" text-anchor="middle" font-size="18" fill="#111" font-family="Liberation Serif, serif">(<tspan font-weight="bold">b</tspan>)</text>
<clipPath id="cpc"><rect x="57.0" y="450.1" width="310.90" height="302.80"/></clipPath>
<g clip-path="url(#cpc)">
<polygon points="106.0,696.6 110.6,692.1 118.1,680.0 124.2,678.5 130.2,670.9 136.2,664.9 142.3,655.8 146.8,648.3 152.8,645.3 160.4,636.2 163.4,631.7 169.4,625.7 177.0,621.1 181.5,612.1 184.5,607.5 195.1,601.5 201.1,592.5 208.7,586.4 216.2,578.9 220.8,571.3 226.8,568.3 234.3,562.3 241.9,557.7 249.4,553.2 255.5,547.2 261.5,541.1 265.5,535.8 272.5,530.3 280.8,523.3 289.1,513.7 293.2,510.9 301.5,506.7 307.0,502.6 312.6,495.7 316.7,491.5 322.0,492.0 320.9,497.0 315.3,502.6 309.8,509.5 308.4,515.0 301.5,522.0 296.0,529.5 291.7,537.0 285.7,542.6 279.6,545.7 273.8,548.0 268.0,556.0 266.0,563.8 258.5,565.3 254.0,572.8 249.4,578.9 246.4,584.9 240.4,587.9 235.8,595.5 226.8,606.0 222.3,610.6 213.2,618.5 207.0,624.0 202.6,633.2 198.1,643.8 190.6,646.8 186.0,652.8 178.5,657.4 170.9,663.4 164.9,666.4 160.4,672.5 154.3,678.5 145.3,680.0 137.7,684.5 130.2,687.5 122.6,690.6 115.1,699.6 109.1,705.7" fill="#1f77b4" stroke="#fff" stroke-width="2.4" stroke-linejoin="round"/>
<circle cx="113.2" cy="695.1" r="3.4" fill="#1f77b4"/>
<circle cx="115.2" cy="691.0" r="3.4" fill="#1f77b4"/>
<circle cx="117.4" cy="686.6" r="3.4" fill="#1f77b4"/>
<circle cx="120.3" cy="684.4" r="3.4" fill="#1f77b4"/>
<circle cx="121.0" cy="683.6" r="3.4" fill="#1f77b4"/>
<circle cx="129.4" cy="677.7" r="3.4" fill="#1f77b4"/>
<circle cx="131.9" cy="674.6" r="3.4" fill="#1f77b4"/>
<circle cx="134.5" cy="672.4" r="3.4" fill="#1f77b4"/>
<circle cx="135.8" cy="670.4" r="3.4" fill="#1f77b4"/>
<circle cx="139.9" cy="664.2" r="3.4" fill="#1f77b4"/>
<circle cx="142.3" cy="662.4" r="3.4" fill="#1f77b4"/>
<circle cx="143.9" cy="659.6" r="3.4" fill="#1f77b4"/>
<circle cx="147.0" cy="655.7" r="3.4" fill="#1f77b4"/>
<circle cx="148.7" cy="653.5" r="3.4" fill="#1f77b4"/>
<circle cx="151.3" cy="649.6" r="3.4" fill="#1f77b4"/>
<circle cx="157.7" cy="645.2" r="3.4" fill="#1f77b4"/>
<circle cx="158.7" cy="643.9" r="3.4" fill="#1f77b4"/>
<circle cx="161.9" cy="639.8" r="3.4" fill="#1f77b4"/>
<circle cx="166.1" cy="634.1" r="3.4" fill="#1f77b4"/>
<circle cx="168.6" cy="631.5" r="3.4" fill="#1f77b4"/>
<circle cx="169.1" cy="630.8" r="3.4" fill="#1f77b4"/>
<circle cx="171.3" cy="627.9" r="3.4" fill="#1f77b4"/>
<circle cx="176.2" cy="625.7" r="3.4" fill="#1f77b4"/>
<circle cx="180.8" cy="622.1" r="3.4" fill="#1f77b4"/>
<circle cx="183.4" cy="615.1" r="3.4" fill="#1f77b4"/>
<circle cx="186.4" cy="609.8" r="3.4" fill="#1f77b4"/>
<circle cx="186.6" cy="610.7" r="3.4" fill="#1f77b4"/>
<circle cx="192.6" cy="607.8" r="3.4" fill="#1f77b4"/>
<circle cx="195.9" cy="605.9" r="3.4" fill="#1f77b4"/>
<circle cx="198.7" cy="603.8" r="3.4" fill="#1f77b4"/>
<circle cx="200.4" cy="598.3" r="3.4" fill="#1f77b4"/>
<circle cx="201.9" cy="596.6" r="3.4" fill="#1f77b4"/>
<circle cx="204.4" cy="593.9" r="3.4" fill="#1f77b4"/>
<circle cx="208.0" cy="590.3" r="3.4" fill="#1f77b4"/>
<circle cx="212.7" cy="588.0" r="3.4" fill="#1f77b4"/>
<circle cx="215.5" cy="585.4" r="3.4" fill="#1f77b4"/>
<circle cx="219.2" cy="579.7" r="3.4" fill="#1f77b4"/>
<circle cx="221.7" cy="575.2" r="3.4" fill="#1f77b4"/>
<circle cx="228.0" cy="572.6" r="3.4" fill="#1f77b4"/>
<circle cx="230.2" cy="571.0" r="3.4" fill="#1f77b4"/>
<circle cx="235.9" cy="565.1" r="3.4" fill="#1f77b4"/>
<circle cx="238.9" cy="564.0" r="3.4" fill="#1f77b4"/>
<circle cx="240.8" cy="562.9" r="3.4" fill="#1f77b4"/>
<circle cx="247.3" cy="559.5" r="3.4" fill="#1f77b4"/>
<circle cx="249.2" cy="558.4" r="3.4" fill="#1f77b4"/>
<circle cx="253.2" cy="553.2" r="3.4" fill="#1f77b4"/>
<circle cx="255.7" cy="553.0" r="3.4" fill="#1f77b4"/>
<circle cx="259.8" cy="548.9" r="3.4" fill="#1f77b4"/>
<circle cx="261.8" cy="546.6" r="3.4" fill="#1f77b4"/>
<circle cx="268.3" cy="538.6" r="3.4" fill="#1f77b4"/>
<circle cx="270.6" cy="535.9" r="3.4" fill="#1f77b4"/>
<circle cx="272.2" cy="533.8" r="3.4" fill="#1f77b4"/>
<circle cx="277.0" cy="531.3" r="3.4" fill="#1f77b4"/>
<circle cx="279.0" cy="529.8" r="3.4" fill="#1f77b4"/>
<circle cx="280.8" cy="526.9" r="3.4" fill="#1f77b4"/>
<circle cx="282.9" cy="525.1" r="3.4" fill="#1f77b4"/>
<circle cx="287.8" cy="520.5" r="3.4" fill="#1f77b4"/>
<circle cx="290.0" cy="519.1" r="3.4" fill="#1f77b4"/>
<circle cx="292.9" cy="515.9" r="3.4" fill="#1f77b4"/>
<circle cx="298.1" cy="511.6" r="3.4" fill="#1f77b4"/>
<circle cx="300.8" cy="510.9" r="3.4" fill="#1f77b4"/>
<circle cx="304.8" cy="509.0" r="3.4" fill="#1f77b4"/>
<circle cx="310.4" cy="504.8" r="3.4" fill="#1f77b4"/>
<circle cx="312.6" cy="501.0" r="3.4" fill="#1f77b4"/>
<circle cx="319.5" cy="494.3" r="3.4" fill="#1f77b4"/>
<circle cx="317.1" cy="495.1" r="3.4" fill="#1f77b4"/>
<circle cx="316.8" cy="495.7" r="3.4" fill="#1f77b4"/>
<circle cx="318.1" cy="495.6" r="3.4" fill="#1f77b4"/>
<circle cx="313.1" cy="499.1" r="3.4" fill="#1f77b4"/>
<circle cx="311.5" cy="501.7" r="3.4" fill="#1f77b4"/>
<circle cx="308.2" cy="506.0" r="3.4" fill="#1f77b4"/>
<circle cx="306.0" cy="510.3" r="3.4" fill="#1f77b4"/>
<circle cx="303.0" cy="514.5" r="3.4" fill="#1f77b4"/>
<circle cx="299.0" cy="518.3" r="3.4" fill="#1f77b4"/>
<circle cx="295.7" cy="523.3" r="3.4" fill="#1f77b4"/>
<circle cx="294.8" cy="525.8" r="3.4" fill="#1f77b4"/>
<circle cx="291.6" cy="530.1" r="3.4" fill="#1f77b4"/>
<circle cx="289.7" cy="535.1" r="3.4" fill="#1f77b4"/>
<circle cx="289.2" cy="535.5" r="3.4" fill="#1f77b4"/>
<circle cx="284.1" cy="538.8" r="3.4" fill="#1f77b4"/>
<circle cx="283.5" cy="539.6" r="3.4" fill="#1f77b4"/>
<circle cx="275.8" cy="543.4" r="3.4" fill="#1f77b4"/>
<circle cx="270.1" cy="546.6" r="3.4" fill="#1f77b4"/>
<circle cx="266.9" cy="550.4" r="3.4" fill="#1f77b4"/>
<circle cx="264.9" cy="555.6" r="3.4" fill="#1f77b4"/>
<circle cx="262.5" cy="561.1" r="3.4" fill="#1f77b4"/>
<circle cx="263.4" cy="559.9" r="3.4" fill="#1f77b4"/>
<circle cx="259.7" cy="561.6" r="3.4" fill="#1f77b4"/>
<circle cx="255.0" cy="565.7" r="3.4" fill="#1f77b4"/>
<circle cx="252.1" cy="569.2" r="3.4" fill="#1f77b4"/>
<circle cx="251.1" cy="571.5" r="3.4" fill="#1f77b4"/>
<circle cx="248.1" cy="574.9" r="3.4" fill="#1f77b4"/>
<circle cx="244.3" cy="583.2" r="3.4" fill="#1f77b4"/>
<circle cx="240.4" cy="584.3" r="3.4" fill="#1f77b4"/>
<circle cx="237.5" cy="586.5" r="3.4" fill="#1f77b4"/>
<circle cx="233.3" cy="593.5" r="3.4" fill="#1f77b4"/>
<circle cx="232.2" cy="595.6" r="3.4" fill="#1f77b4"/>
<circle cx="228.5" cy="597.9" r="3.4" fill="#1f77b4"/>
<circle cx="226.6" cy="601.4" r="3.4" fill="#1f77b4"/>
<circle cx="220.0" cy="608.1" r="3.4" fill="#1f77b4"/>
<circle cx="217.9" cy="609.3" r="3.4" fill="#1f77b4"/>
<circle cx="216.9" cy="611.8" r="3.4" fill="#1f77b4"/>
<circle cx="213.2" cy="614.8" r="3.4" fill="#1f77b4"/>
<circle cx="210.2" cy="617.6" r="3.4" fill="#1f77b4"/>
<circle cx="205.3" cy="619.8" r="3.4" fill="#1f77b4"/>
<circle cx="203.6" cy="624.3" r="3.4" fill="#1f77b4"/>
<circle cx="200.6" cy="630.2" r="3.4" fill="#1f77b4"/>
<circle cx="199.0" cy="632.8" r="3.4" fill="#1f77b4"/>
<circle cx="196.8" cy="638.7" r="3.4" fill="#1f77b4"/>
<circle cx="194.4" cy="641.5" r="3.4" fill="#1f77b4"/>
<circle cx="194.3" cy="642.5" r="3.4" fill="#1f77b4"/>
<circle cx="192.3" cy="642.9" r="3.4" fill="#1f77b4"/>
<circle cx="187.7" cy="645.9" r="3.4" fill="#1f77b4"/>
<circle cx="183.5" cy="649.0" r="3.4" fill="#1f77b4"/>
<circle cx="180.6" cy="651.3" r="3.4" fill="#1f77b4"/>
<circle cx="179.3" cy="653.4" r="3.4" fill="#1f77b4"/>
<circle cx="176.2" cy="655.3" r="3.4" fill="#1f77b4"/>
<circle cx="171.9" cy="658.3" r="3.4" fill="#1f77b4"/>
<circle cx="163.3" cy="662.6" r="3.4" fill="#1f77b4"/>
<circle cx="161.7" cy="664.4" r="3.4" fill="#1f77b4"/>
<circle cx="158.3" cy="670.8" r="3.4" fill="#1f77b4"/>
<circle cx="154.7" cy="672.8" r="3.4" fill="#1f77b4"/>
<circle cx="153.3" cy="674.3" r="3.4" fill="#1f77b4"/>
<circle cx="151.6" cy="675.3" r="3.4" fill="#1f77b4"/>
<circle cx="147.9" cy="676.7" r="3.4" fill="#1f77b4"/>
<circle cx="142.3" cy="677.4" r="3.4" fill="#1f77b4"/>
<circle cx="137.3" cy="680.5" r="3.4" fill="#1f77b4"/>
<circle cx="135.9" cy="681.1" r="3.4" fill="#1f77b4"/>
<circle cx="131.9" cy="684.0" r="3.4" fill="#1f77b4"/>
<circle cx="128.9" cy="685.1" r="3.4" fill="#1f77b4"/>
<circle cx="121.5" cy="686.6" r="3.4" fill="#1f77b4"/>
<circle cx="118.2" cy="690.8" r="3.4" fill="#1f77b4"/>
<circle cx="116.3" cy="692.3" r="3.4" fill="#1f77b4"/>
<circle cx="114.3" cy="695.4" r="3.4" fill="#1f77b4"/>
<circle cx="112.3" cy="697.5" r="3.4" fill="#1f77b4"/>
<circle cx="107.3" cy="701.2" r="3.4" fill="#1f77b4"/>
<circle cx="110.9" cy="701.3" r="3.4" fill="#1f77b4"/>
<circle cx="110.0" cy="697.2" r="3.4" fill="#1f77b4"/>
<circle cx="119.6" cy="704.2" r="3.4" fill="#1f77b4"/>
<circle cx="146.0" cy="707.5" r="3.4" fill="#1f77b4"/>
<circle cx="144.5" cy="686.8" r="3.4" fill="#1f77b4"/>
<circle cx="146.8" cy="692.1" r="3.4" fill="#1f77b4"/>
<circle cx="173.2" cy="677.7" r="3.4" fill="#1f77b4"/>
<circle cx="156.6" cy="680.0" r="3.4" fill="#1f77b4"/>
<circle cx="161.9" cy="672.2" r="3.4" fill="#1f77b4"/>
<circle cx="170.9" cy="668.7" r="3.4" fill="#1f77b4"/>
<circle cx="177.0" cy="663.4" r="3.4" fill="#1f77b4"/>
<circle cx="196.6" cy="643.8" r="3.4" fill="#1f77b4"/>
<circle cx="185.3" cy="651.3" r="3.4" fill="#1f77b4"/>
<circle cx="235.8" cy="601.5" r="3.4" fill="#1f77b4"/>
<circle cx="220.0" cy="615.8" r="3.4" fill="#1f77b4"/>
<circle cx="290.2" cy="540.4" r="3.4" fill="#1f77b4"/>
<circle cx="247.2" cy="584.2" r="3.4" fill="#1f77b4"/>
<circle cx="275.2" cy="521.3" r="3.4" fill="#1f77b4"/>
<circle cx="283.5" cy="522.0" r="3.4" fill="#1f77b4"/>
<circle cx="343.0" cy="463.8" r="3.4" fill="#1f77b4"/>
<circle cx="336.1" cy="471.4" r="3.4" fill="#1f77b4"/>
<circle cx="337.5" cy="479.7" r="3.4" fill="#1f77b4"/>
<circle cx="340.9" cy="478.4" r="3.4" fill="#1f77b4"/>
<circle cx="330.6" cy="492.9" r="3.4" fill="#1f77b4"/>
<circle cx="340.9" cy="494.6" r="3.4" fill="#1f77b4"/>
<circle cx="308.4" cy="526.8" r="3.4" fill="#1f77b4"/>
<circle cx="318.8" cy="502.3" r="3.4" fill="#1f77b4"/>
<circle cx="289.7" cy="539.9" r="3.4" fill="#1f77b4"/>
<line x1="71.20" y1="739.20" x2="354.00" y2="464.00" stroke="#000" stroke-width="3.5" stroke-dasharray="13 6.7"/>
</g>
<rect x="57.0" y="450.1" width="310.90" height="302.80" fill="none" stroke="#404040" stroke-width="1.05"/>
<line x1="71.20" y1="752.90" x2="71.20" y2="756.40" stroke="#222" stroke-width="0.9"/>
<line x1="53.50" y1="739.20" x2="57.00" y2="739.20" stroke="#222" stroke-width="0.9"/>
<text x="71.20" y="769.50" text-anchor="middle" font-size="15.6" fill="#111" stroke="#111" stroke-width="0.3" font-family="Liberation Sans, sans-serif" textLength="23.5" lengthAdjust="spacingAndGlyphs">0.0</text>
<text x="50.26" y="744.00" text-anchor="end" font-size="15.6" fill="#111" stroke="#111" stroke-width="0.3" font-family="Liberation Sans, sans-serif" textLength="23.5" lengthAdjust="spacingAndGlyphs">0.0</text>
<line x1="127.76" y1="752.90" x2="127.76" y2="756.40" stroke="#222" stroke-width="0.9"/>
<line x1="53.50" y1="684.16" x2="57.00" y2="684.16" stroke="#222" stroke-width="0.9"/>
<text x="127.76" y="769.50" text-anchor="middle" font-size="15.6" fill="#111" stroke="#111" stroke-width="0.3" font-family="Liberation Sans, sans-serif" textLength="23.5" lengthAdjust="spacingAndGlyphs">0.2</text>
<text x="50.26" y="688.96" text-anchor="end" font-size="15.6" fill="#111" stroke="#111" stroke-width="0.3" font-family="Liberation Sans, sans-serif" textLength="23.5" lengthAdjust="spacingAndGlyphs">0.2</text>
<line x1="184.32" y1="752.90" x2="184.32" y2="756.40" stroke="#222" stroke-width="0.9"/>
<line x1="53.50" y1="629.12" x2="57.00" y2="629.12" stroke="#222" stroke-width="0.9"/>
<text x="184.32" y="769.50" text-anchor="middle" font-size="15.6" fill="#111" stroke="#111" stroke-width="0.3" font-family="Liberation Sans, sans-serif" textLength="23.5" lengthAdjust="spacingAndGlyphs">0.4</text>
<text x="50.26" y="633.92" text-anchor="end" font-size="15.6" fill="#111" stroke="#111" stroke-width="0.3" font-family="Liberation Sans, sans-serif" textLength="23.5" lengthAdjust="spacingAndGlyphs">0.4</text>
<line x1="240.88" y1="752.90" x2="240.88" y2="756.40" stroke="#222" stroke-width="0.9"/>
<line x1="53.50" y1="574.08" x2="57.00" y2="574.08" stroke="#222" stroke-width="0.9"/>
<text x="240.88" y="769.50" text-anchor="middle" font-size="15.6" fill="#111" stroke="#111" stroke-width="0.3" font-family="Liberation Sans, sans-serif" textLength="23.5" lengthAdjust="spacingAndGlyphs">0.6</text>
<text x="50.26" y="578.88" text-anchor="end" font-size="15.6" fill="#111" stroke="#111" stroke-width="0.3" font-family="Liberation Sans, sans-serif" textLength="23.5" lengthAdjust="spacingAndGlyphs">0.6</text>
<line x1="297.44" y1="752.90" x2="297.44" y2="756.40" stroke="#222" stroke-width="0.9"/>
<line x1="53.50" y1="519.04" x2="57.00" y2="519.04" stroke="#222" stroke-width="0.9"/>
<text x="297.44" y="769.50" text-anchor="middle" font-size="15.6" fill="#111" stroke="#111" stroke-width="0.3" font-family="Liberation Sans, sans-serif" textLength="23.5" lengthAdjust="spacingAndGlyphs">0.8</text>
<text x="50.26" y="523.84" text-anchor="end" font-size="15.6" fill="#111" stroke="#111" stroke-width="0.3" font-family="Liberation Sans, sans-serif" textLength="23.5" lengthAdjust="spacingAndGlyphs">0.8</text>
<line x1="354.00" y1="752.90" x2="354.00" y2="756.40" stroke="#222" stroke-width="0.9"/>
<line x1="53.50" y1="464.00" x2="57.00" y2="464.00" stroke="#222" stroke-width="0.9"/>
<text x="353.10" y="769.50" text-anchor="middle" font-size="15.6" fill="#111" stroke="#111" stroke-width="0.3" font-family="Liberation Sans, sans-serif" textLength="22.1" lengthAdjust="spacingAndGlyphs">1.0</text>
<text x="49.60" y="468.80" text-anchor="end" font-size="15.6" fill="#111" stroke="#111" stroke-width="0.3" font-family="Liberation Sans, sans-serif" textLength="22.1" lengthAdjust="spacingAndGlyphs">1.0</text>
<text x="212.45" y="787.40" text-anchor="middle" font-size="15.6" fill="#111" stroke="#111" stroke-width="0.3" font-family="Liberation Sans, sans-serif" textLength="181.7" lengthAdjust="spacingAndGlyphs">Temperature predictions</text>
<text transform="translate(19.00,601.90) rotate(-90)" text-anchor="middle" font-size="15.6" fill="#111" stroke="#111" stroke-width="0.3" font-family="Liberation Sans, sans-serif" textLength="195.4" lengthAdjust="spacingAndGlyphs">Temperature observations</text>
<rect x="66.50" y="459.10" width="115.3" height="42.2" rx="4.5" fill="#fff" fill-opacity="0.8" stroke="#999" stroke-width="1.05"/>
<text x="71.20" y="476.10" font-size="15.6" font-style="italic" fill="#111" stroke="#111" stroke-width="0.3" font-family="Liberation Sans, sans-serif" textLength="9.4" lengthAdjust="spacingAndGlyphs">R</text>
<text x="82.40" y="471.40" font-size="10.7" fill="#111" stroke="#111" stroke-width="0.3" font-family="Liberation Sans, sans-serif">2</text>
<rect x="95.20" y="470.40" width="9.5" height="1.2" fill="#111"/>
<rect x="95.20" y="473.20" width="9.5" height="1.2" fill="#111"/>
<text x="111.24" y="476.10" font-size="15.6" fill="#111" stroke="#111" stroke-width="0.3" font-family="Liberation Sans, sans-serif" textLength="42.49" lengthAdjust="spacingAndGlyphs">0.981</text>
<text x="70.63" y="493.70" font-size="15.6" fill="#111" stroke="#111" stroke-width="0.3" font-family="Liberation Sans, sans-serif" textLength="41.07" lengthAdjust="spacingAndGlyphs">RMSE</text>
<rect x="118.60" y="488.20" width="9.6" height="1.2" fill="#111"/>
<rect x="118.60" y="491.20" width="9.6" height="1.2" fill="#111"/>
<text x="134.55" y="493.70" font-size="15.6" fill="#111" stroke="#111" stroke-width="0.3" font-family="Liberation Sans, sans-serif" textLength="41.69" lengthAdjust="spacingAndGlyphs">0.023</text>
<text x="206.70" y="833.40" text-anchor="middle" font-size="18" fill="#111" font-family="Liberation Serif, serif">(<tspan font-weight="bold">c</tspan>)</text>
<clipPath id="cpd"><rect x="474.5" y="450.1" width="310.90" height="302.80"/></clipPath>
<g clip-path="url(#cpd)">
<polygon points="510.6,718.7 515.1,709.6 522.6,697.5 527.2,693.0 534.7,685.5 539.2,677.9 545.3,671.9 551.3,664.3 557.4,661.3 561.9,653.8 567.9,647.7 570.9,640.2 577.0,635.7 584.5,625.1 590.0,620.6 596.0,617.5 602.1,610.0 611.1,599.4 620.2,593.4 624.7,587.4 632.3,581.3 638.3,578.3 647.4,569.2 653.4,564.7 660.9,557.2 668.5,552.6 674.5,546.6 680.5,539.9 687.5,533.0 695.8,530.3 702.7,524.7 708.2,517.8 713.7,510.9 717.9,502.6 724.8,498.4 730.3,494.3 735.9,486.0 742.8,483.2 748.3,481.8 750.4,483.2 744.2,491.5 738.7,497.0 730.3,509.5 723.4,517.8 715.1,522.0 712.4,530.3 706.2,536.0 695.7,545.1 686.6,554.2 680.6,563.2 674.5,572.3 664.0,575.3 656.4,581.3 654.9,591.9 645.8,594.9 638.3,605.5 632.3,611.5 627.7,619.1 619.2,628.0 611.7,635.7 605.7,643.2 602.6,650.8 596.6,658.3 587.5,659.8 581.5,665.8 577.0,670.4 572.5,676.4 566.4,677.9 560.4,684.0 554.3,685.5 549.8,691.5 545.3,697.5 542.3,703.6 536.2,702.1 530.2,706.6 524.2,714.2 519.6,718.7 513.6,720.9" fill="#1f77b4" stroke="#fff" stroke-width="2.4" stroke-linejoin="round"/>
<circle cx="514.9" cy="717.2" r="3.4" fill="#1f77b4"/>
<circle cx="517.6" cy="712.6" r="3.4" fill="#1f77b4"/>
<circle cx="518.4" cy="709.3" r="3.4" fill="#1f77b4"/>
<circle cx="521.7" cy="706.0" r="3.4" fill="#1f77b4"/>
<circle cx="523.4" cy="702.4" r="3.4" fill="#1f77b4"/>
<circle cx="526.3" cy="699.4" r="3.4" fill="#1f77b4"/>
<circle cx="532.9" cy="693.1" r="3.4" fill="#1f77b4"/>
<circle cx="537.1" cy="688.6" r="3.4" fill="#1f77b4"/>
<circle cx="539.0" cy="683.6" r="3.4" fill="#1f77b4"/>
<circle cx="540.3" cy="682.0" r="3.4" fill="#1f77b4"/>
<circle cx="542.3" cy="679.5" r="3.4" fill="#1f77b4"/>
<circle cx="546.7" cy="676.3" r="3.4" fill="#1f77b4"/>
<circle cx="548.8" cy="672.7" r="3.4" fill="#1f77b4"/>
<circle cx="553.1" cy="666.4" r="3.4" fill="#1f77b4"/>
<circle cx="552.6" cy="666.6" r="3.4" fill="#1f77b4"/>
<circle cx="562.6" cy="660.4" r="3.4" fill="#1f77b4"/>
<circle cx="563.6" cy="656.8" r="3.4" fill="#1f77b4"/>
<circle cx="566.1" cy="653.6" r="3.4" fill="#1f77b4"/>
<circle cx="570.4" cy="651.4" r="3.4" fill="#1f77b4"/>
<circle cx="571.8" cy="645.8" r="3.4" fill="#1f77b4"/>
<circle cx="572.7" cy="644.0" r="3.4" fill="#1f77b4"/>
<circle cx="576.0" cy="641.3" r="3.4" fill="#1f77b4"/>
<circle cx="577.1" cy="639.5" r="3.4" fill="#1f77b4"/>
<circle cx="580.4" cy="637.7" r="3.4" fill="#1f77b4"/>
<circle cx="583.2" cy="633.4" r="3.4" fill="#1f77b4"/>
<circle cx="586.3" cy="628.8" r="3.4" fill="#1f77b4"/>
<circle cx="591.5" cy="622.8" r="3.4" fill="#1f77b4"/>
<circle cx="592.7" cy="623.4" r="3.4" fill="#1f77b4"/>
<circle cx="599.3" cy="620.1" r="3.4" fill="#1f77b4"/>
<circle cx="602.8" cy="616.1" r="3.4" fill="#1f77b4"/>
<circle cx="607.4" cy="610.0" r="3.4" fill="#1f77b4"/>
<circle cx="607.7" cy="607.7" r="3.4" fill="#1f77b4"/>
<circle cx="613.6" cy="601.5" r="3.4" fill="#1f77b4"/>
<circle cx="615.4" cy="599.8" r="3.4" fill="#1f77b4"/>
<circle cx="617.8" cy="599.4" r="3.4" fill="#1f77b4"/>
<circle cx="621.2" cy="596.5" r="3.4" fill="#1f77b4"/>
<circle cx="624.4" cy="594.9" r="3.4" fill="#1f77b4"/>
<circle cx="627.0" cy="589.2" r="3.4" fill="#1f77b4"/>
<circle cx="628.1" cy="588.5" r="3.4" fill="#1f77b4"/>
<circle cx="631.4" cy="586.3" r="3.4" fill="#1f77b4"/>
<circle cx="638.4" cy="582.4" r="3.4" fill="#1f77b4"/>
<circle cx="641.2" cy="579.4" r="3.4" fill="#1f77b4"/>
<circle cx="646.2" cy="575.5" r="3.4" fill="#1f77b4"/>
<circle cx="649.8" cy="572.5" r="3.4" fill="#1f77b4"/>
<circle cx="651.7" cy="570.4" r="3.4" fill="#1f77b4"/>
<circle cx="652.9" cy="569.7" r="3.4" fill="#1f77b4"/>
<circle cx="658.2" cy="564.6" r="3.4" fill="#1f77b4"/>
<circle cx="660.9" cy="562.4" r="3.4" fill="#1f77b4"/>
<circle cx="665.9" cy="557.9" r="3.4" fill="#1f77b4"/>
<circle cx="667.8" cy="558.1" r="3.4" fill="#1f77b4"/>
<circle cx="672.8" cy="553.3" r="3.4" fill="#1f77b4"/>
<circle cx="676.0" cy="548.9" r="3.4" fill="#1f77b4"/>
<circle cx="677.8" cy="548.4" r="3.4" fill="#1f77b4"/>
<circle cx="681.3" cy="544.9" r="3.4" fill="#1f77b4"/>
<circle cx="685.3" cy="541.0" r="3.4" fill="#1f77b4"/>
<circle cx="688.7" cy="537.1" r="3.4" fill="#1f77b4"/>
<circle cx="690.9" cy="535.3" r="3.4" fill="#1f77b4"/>
<circle cx="694.1" cy="535.4" r="3.4" fill="#1f77b4"/>
<circle cx="701.0" cy="530.0" r="3.4" fill="#1f77b4"/>
<circle cx="701.0" cy="529.6" r="3.4" fill="#1f77b4"/>
<circle cx="708.0" cy="523.6" r="3.4" fill="#1f77b4"/>
<circle cx="710.3" cy="521.3" r="3.4" fill="#1f77b4"/>
<circle cx="711.5" cy="518.5" r="3.4" fill="#1f77b4"/>
<circle cx="716.1" cy="514.6" r="3.4" fill="#1f77b4"/>
<circle cx="718.9" cy="509.7" r="3.4" fill="#1f77b4"/>
<circle cx="719.8" cy="504.7" r="3.4" fill="#1f77b4"/>
<circle cx="722.0" cy="504.7" r="3.4" fill="#1f77b4"/>
<circle cx="725.5" cy="501.2" r="3.4" fill="#1f77b4"/>
<circle cx="729.9" cy="499.0" r="3.4" fill="#1f77b4"/>
<circle cx="734.4" cy="494.0" r="3.4" fill="#1f77b4"/>
<circle cx="736.7" cy="489.7" r="3.4" fill="#1f77b4"/>
<circle cx="740.3" cy="488.9" r="3.4" fill="#1f77b4"/>
<circle cx="742.3" cy="487.7" r="3.4" fill="#1f77b4"/>
<circle cx="749.1" cy="485.4" r="3.4" fill="#1f77b4"/>
<circle cx="747.7" cy="486.6" r="3.4" fill="#1f77b4"/>
<circle cx="744.9" cy="484.6" r="3.4" fill="#1f77b4"/>
<circle cx="741.9" cy="488.1" r="3.4" fill="#1f77b4"/>
<circle cx="740.6" cy="490.1" r="3.4" fill="#1f77b4"/>
<circle cx="738.7" cy="492.8" r="3.4" fill="#1f77b4"/>
<circle cx="733.3" cy="497.3" r="3.4" fill="#1f77b4"/>
<circle cx="732.9" cy="499.7" r="3.4" fill="#1f77b4"/>
<circle cx="730.6" cy="502.0" r="3.4" fill="#1f77b4"/>
<circle cx="728.5" cy="506.1" r="3.4" fill="#1f77b4"/>
<circle cx="725.6" cy="511.0" r="3.4" fill="#1f77b4"/>
<circle cx="722.1" cy="513.0" r="3.4" fill="#1f77b4"/>
<circle cx="719.2" cy="515.3" r="3.4" fill="#1f77b4"/>
<circle cx="716.1" cy="517.1" r="3.4" fill="#1f77b4"/>
<circle cx="710.8" cy="524.9" r="3.4" fill="#1f77b4"/>
<circle cx="710.5" cy="527.7" r="3.4" fill="#1f77b4"/>
<circle cx="708.4" cy="529.7" r="3.4" fill="#1f77b4"/>
<circle cx="706.3" cy="531.0" r="3.4" fill="#1f77b4"/>
<circle cx="701.5" cy="534.6" r="3.4" fill="#1f77b4"/>
<circle cx="700.0" cy="536.6" r="3.4" fill="#1f77b4"/>
<circle cx="694.9" cy="541.7" r="3.4" fill="#1f77b4"/>
<circle cx="690.9" cy="544.9" r="3.4" fill="#1f77b4"/>
<circle cx="689.3" cy="547.6" r="3.4" fill="#1f77b4"/>
<circle cx="685.2" cy="551.1" r="3.4" fill="#1f77b4"/>
<circle cx="681.3" cy="554.3" r="3.4" fill="#1f77b4"/>
<circle cx="679.4" cy="557.9" r="3.4" fill="#1f77b4"/>
<circle cx="679.0" cy="560.5" r="3.4" fill="#1f77b4"/>
<circle cx="675.7" cy="564.0" r="3.4" fill="#1f77b4"/>
<circle cx="675.1" cy="566.3" r="3.4" fill="#1f77b4"/>
<circle cx="672.9" cy="567.4" r="3.4" fill="#1f77b4"/>
<circle cx="671.6" cy="569.9" r="3.4" fill="#1f77b4"/>
<circle cx="668.3" cy="570.6" r="3.4" fill="#1f77b4"/>
<circle cx="663.2" cy="572.4" r="3.4" fill="#1f77b4"/>
<circle cx="659.5" cy="575.0" r="3.4" fill="#1f77b4"/>
<circle cx="655.3" cy="577.0" r="3.4" fill="#1f77b4"/>
<circle cx="652.0" cy="581.2" r="3.4" fill="#1f77b4"/>
<circle cx="652.7" cy="588.5" r="3.4" fill="#1f77b4"/>
<circle cx="652.5" cy="588.4" r="3.4" fill="#1f77b4"/>
<circle cx="647.6" cy="590.4" r="3.4" fill="#1f77b4"/>
<circle cx="641.7" cy="594.2" r="3.4" fill="#1f77b4"/>
<circle cx="640.6" cy="597.3" r="3.4" fill="#1f77b4"/>
<circle cx="636.4" cy="602.4" r="3.4" fill="#1f77b4"/>
<circle cx="634.9" cy="602.9" r="3.4" fill="#1f77b4"/>
<circle cx="630.6" cy="608.8" r="3.4" fill="#1f77b4"/>
<circle cx="628.2" cy="611.2" r="3.4" fill="#1f77b4"/>
<circle cx="627.2" cy="614.8" r="3.4" fill="#1f77b4"/>
<circle cx="624.9" cy="616.5" r="3.4" fill="#1f77b4"/>
<circle cx="621.8" cy="620.9" r="3.4" fill="#1f77b4"/>
<circle cx="617.1" cy="624.6" r="3.4" fill="#1f77b4"/>
<circle cx="616.8" cy="626.6" r="3.4" fill="#1f77b4"/>
<circle cx="611.4" cy="629.9" r="3.4" fill="#1f77b4"/>
<circle cx="607.8" cy="635.1" r="3.4" fill="#1f77b4"/>
<circle cx="606.3" cy="638.1" r="3.4" fill="#1f77b4"/>
<circle cx="601.8" cy="642.1" r="3.4" fill="#1f77b4"/>
<circle cx="600.6" cy="646.4" r="3.4" fill="#1f77b4"/>
<circle cx="597.0" cy="650.9" r="3.4" fill="#1f77b4"/>
<circle cx="596.7" cy="652.4" r="3.4" fill="#1f77b4"/>
<circle cx="592.8" cy="656.2" r="3.4" fill="#1f77b4"/>
<circle cx="588.7" cy="655.4" r="3.4" fill="#1f77b4"/>
<circle cx="583.8" cy="658.9" r="3.4" fill="#1f77b4"/>
<circle cx="581.5" cy="661.4" r="3.4" fill="#1f77b4"/>
<circle cx="579.0" cy="663.7" r="3.4" fill="#1f77b4"/>
<circle cx="573.7" cy="670.4" r="3.4" fill="#1f77b4"/>
<circle cx="569.8" cy="672.8" r="3.4" fill="#1f77b4"/>
<circle cx="566.3" cy="673.4" r="3.4" fill="#1f77b4"/>
<circle cx="562.2" cy="678.0" r="3.4" fill="#1f77b4"/>
<circle cx="559.4" cy="679.6" r="3.4" fill="#1f77b4"/>
<circle cx="556.9" cy="680.6" r="3.4" fill="#1f77b4"/>
<circle cx="550.9" cy="683.6" r="3.4" fill="#1f77b4"/>
<circle cx="547.5" cy="687.5" r="3.4" fill="#1f77b4"/>
<circle cx="545.6" cy="691.8" r="3.4" fill="#1f77b4"/>
<circle cx="543.6" cy="692.5" r="3.4" fill="#1f77b4"/>
<circle cx="540.6" cy="700.7" r="3.4" fill="#1f77b4"/>
<circle cx="541.6" cy="699.1" r="3.4" fill="#1f77b4"/>
<circle cx="532.4" cy="701.5" r="3.4" fill="#1f77b4"/>
<circle cx="529.7" cy="702.2" r="3.4" fill="#1f77b4"/>
<circle cx="527.3" cy="705.7" r="3.4" fill="#1f77b4"/>
<circle cx="522.4" cy="712.0" r="3.4" fill="#1f77b4"/>
<circle cx="520.0" cy="713.0" r="3.4" fill="#1f77b4"/>
<circle cx="514.5" cy="716.6" r="3.4" fill="#1f77b4"/>
<circle cx="515.0" cy="717.8" r="3.4" fill="#1f77b4"/>
<circle cx="540.0" cy="666.6" r="3.4" fill="#1f77b4"/>
<circle cx="543.0" cy="668.9" r="3.4" fill="#1f77b4"/>
<circle cx="561.1" cy="647.7" r="3.4" fill="#1f77b4"/>
<circle cx="586.8" cy="618.3" r="3.4" fill="#1f77b4"/>
<circle cx="582.3" cy="680.9" r="3.4" fill="#1f77b4"/>
<circle cx="577.0" cy="675.7" r="3.4" fill="#1f77b4"/>
<circle cx="560.4" cy="702.8" r="3.4" fill="#1f77b4"/>
<circle cx="552.1" cy="694.5" r="3.4" fill="#1f77b4"/>
<circle cx="552.8" cy="699.1" r="3.4" fill="#1f77b4"/>
<circle cx="526.4" cy="718.7" r="3.4" fill="#1f77b4"/>
<circle cx="615.5" cy="641.7" r="3.4" fill="#1f77b4"/>
<circle cx="619.2" cy="648.5" r="3.4" fill="#1f77b4"/>
<circle cx="598.1" cy="658.3" r="3.4" fill="#1f77b4"/>
<circle cx="605.7" cy="647.0" r="3.4" fill="#1f77b4"/>
<circle cx="627.7" cy="579.1" r="3.4" fill="#1f77b4"/>
<circle cx="604.3" cy="609.2" r="3.4" fill="#1f77b4"/>
<circle cx="707.0" cy="547.4" r="3.4" fill="#1f77b4"/>
<circle cx="682.1" cy="564.0" r="3.4" fill="#1f77b4"/>
<circle cx="633.0" cy="617.8" r="3.4" fill="#1f77b4"/>
<circle cx="627.7" cy="627.4" r="3.4" fill="#1f77b4"/>
<circle cx="627.7" cy="638.7" r="3.4" fill="#1f77b4"/>
<circle cx="615.7" cy="641.7" r="3.4" fill="#1f77b4"/>
<circle cx="620.2" cy="648.5" r="3.4" fill="#1f77b4"/>
<circle cx="686.1" cy="524.0" r="3.4" fill="#1f77b4"/>
<circle cx="690.2" cy="525.4" r="3.4" fill="#1f77b4"/>
<circle cx="695.1" cy="524.0" r="3.4" fill="#1f77b4"/>
<circle cx="764.2" cy="463.8" r="3.4" fill="#1f77b4"/>
<circle cx="707.5" cy="547.5" r="3.4" fill="#1f77b4"/>
<circle cx="734.5" cy="507.4" r="3.4" fill="#1f77b4"/>
<circle cx="507.3" cy="739.5" r="3.4" fill="#1f77b4"/>
<line x1="488.00" y1="739.20" x2="772.00" y2="464.00" stroke="#000" stroke-width="3.5" stroke-dasharray="13 6.7"/>
</g>
<rect x="474.5" y="450.1" width="310.90" height="302.80" fill="none" stroke="#404040" stroke-width="1.05"/>
<line x1="488.00" y1="752.90" x2="488.00" y2="756.40" stroke="#222" stroke-width="0.9"/>
<line x1="471.00" y1="739.20" x2="474.50" y2="739.20" stroke="#222" stroke-width="0.9"/>
<text x="488.00" y="769.50" text-anchor="middle" font-size="15.6" fill="#111" stroke="#111" stroke-width="0.3" font-family="Liberation Sans, sans-serif" textLength="23.5" lengthAdjust="spacingAndGlyphs">0.0</text>
<text x="467.76" y="744.00" text-anchor="end" font-size="15.6" fill="#111" stroke="#111" stroke-width="0.3" font-family="Liberation Sans, sans-serif" textLength="23.5" lengthAdjust="spacingAndGlyphs">0.0</text>
<line x1="544.80" y1="752.90" x2="544.80" y2="756.40" stroke="#222" stroke-width="0.9"/>
<line x1="471.00" y1="684.16" x2="474.50" y2="684.16" stroke="#222" stroke-width="0.9"/>
<text x="544.80" y="769.50" text-anchor="middle" font-size="15.6" fill="#111" stroke="#111" stroke-width="0.3" font-family="Liberation Sans, sans-serif" textLength="23.5" lengthAdjust="spacingAndGlyphs">0.2</text>
<text x="467.76" y="688.96" text-anchor="end" font-size="15.6" fill="#111" stroke="#111" stroke-width="0.3" font-family="Liberation Sans, sans-serif" textLength="23.5" lengthAdjust="spacingAndGlyphs">0.2</text>
<line x1="601.60" y1="752.90" x2="601.60" y2="756.40" stroke="#222" stroke-width="0.9"/>
<line x1="471.00" y1="629.12" x2="474.50" y2="629.12" stroke="#222" stroke-width="0.9"/>
<text x="601.60" y="769.50" text-anchor="middle" font-size="15.6" fill="#111" stroke="#111" stroke-width="0.3" font-family="Liberation Sans, sans-serif" textLength="23.5" lengthAdjust="spacingAndGlyphs">0.4</text>
<text x="467.76" y="633.92" text-anchor="end" font-size="15.6" fill="#111" stroke="#111" stroke-width="0.3" font-family="Liberation Sans, sans-serif" textLength="23.5" lengthAdjust="spacingAndGlyphs">0.4</text>
<line x1="658.40" y1="752.90" x2="658.40" y2="756.40" stroke="#222" stroke-width="0.9"/>
<line x1="471.00" y1="574.08" x2="474.50" y2="574.08" stroke="#222" stroke-width="0.9"/>
<text x="658.40" y="769.50" text-anchor="middle" font-size="15.6" fill="#111" stroke="#111" stroke-width="0.3" font-family="Liberation Sans, sans-serif" textLength="23.5" lengthAdjust="spacingAndGlyphs">0.6</text>
<text x="467.76" y="578.88" text-anchor="end" font-size="15.6" fill="#111" stroke="#111" stroke-width="0.3" font-family="Liberation Sans, sans-serif" textLength="23.5" lengthAdjust="spacingAndGlyphs">0.6</text>
<line x1="715.20" y1="752.90" x2="715.20" y2="756.40" stroke="#222" stroke-width="0.9"/>
<line x1="471.00" y1="519.04" x2="474.50" y2="519.04" stroke="#222" stroke-width="0.9"/>
<text x="715.20" y="769.50" text-anchor="middle" font-size="15.6" fill="#111" stroke="#111" stroke-width="0.3" font-family="Liberation Sans, sans-serif" textLength="23.5" lengthAdjust="spacingAndGlyphs">0.8</text>
<text x="467.76" y="523.84" text-anchor="end" font-size="15.6" fill="#111" stroke="#111" stroke-width="0.3" font-family="Liberation Sans, sans-serif" textLength="23.5" lengthAdjust="spacingAndGlyphs">0.8</text>
<line x1="772.00" y1="752.90" x2="772.00" y2="756.40" stroke="#222" stroke-width="0.9"/>
<line x1="471.00" y1="464.00" x2="474.50" y2="464.00" stroke="#222" stroke-width="0.9"/>
<text x="771.10" y="769.50" text-anchor="middle" font-size="15.6" fill="#111" stroke="#111" stroke-width="0.3" font-family="Liberation Sans, sans-serif" textLength="22.1" lengthAdjust="spacingAndGlyphs">1.0</text>
<text x="467.10" y="468.80" text-anchor="end" font-size="15.6" fill="#111" stroke="#111" stroke-width="0.3" font-family="Liberation Sans, sans-serif" textLength="22.1" lengthAdjust="spacingAndGlyphs">1.0</text>
<text x="629.95" y="787.40" text-anchor="middle" font-size="15.6" fill="#111" stroke="#111" stroke-width="0.3" font-family="Liberation Sans, sans-serif" textLength="218.0" lengthAdjust="spacingAndGlyphs">Relative humidity predictions</text>
<text transform="translate(436.50,601.90) rotate(-90)" text-anchor="middle" font-size="15.6" fill="#111" stroke="#111" stroke-width="0.3" font-family="Liberation Sans, sans-serif" textLength="232.3" lengthAdjust="spacingAndGlyphs">Relative humidity observations</text>
<rect x="484.00" y="459.10" width="115.3" height="42.2" rx="4.5" fill="#fff" fill-opacity="0.8" stroke="#999" stroke-width="1.05"/>
<text x="488.70" y="476.10" font-size="15.6" font-style="italic" fill="#111" stroke="#111" stroke-width="0.3" font-family="Liberation Sans, sans-serif" textLength="9.4" lengthAdjust="spacingAndGlyphs">R</text>
<text x="499.90" y="471.40" font-size="10.7" fill="#111" stroke="#111" stroke-width="0.3" font-family="Liberation Sans, sans-serif">2</text>
<rect x="512.70" y="470.40" width="9.5" height="1.2" fill="#111"/>
<rect x="512.70" y="473.20" width="9.5" height="1.2" fill="#111"/>
<text x="528.74" y="476.10" font-size="15.6" fill="#111" stroke="#111" stroke-width="0.3" font-family="Liberation Sans, sans-serif" textLength="42.49" lengthAdjust="spacingAndGlyphs">0.969</text>
<text x="488.13" y="493.70" font-size="15.6" fill="#111" stroke="#111" stroke-width="0.3" font-family="Liberation Sans, sans-serif" textLength="41.07" lengthAdjust="spacingAndGlyphs">RMSE</text>
<rect x="536.10" y="488.20" width="9.6" height="1.2" fill="#111"/>
<rect x="536.10" y="491.20" width="9.6" height="1.2" fill="#111"/>
<text x="552.05" y="493.70" font-size="15.6" fill="#111" stroke="#111" stroke-width="0.3" font-family="Liberation Sans, sans-serif" textLength="41.69" lengthAdjust="spacingAndGlyphs">0.032</text>
<text x="624.00" y="833.40" text-anchor="middle" font-size="18" fill="#111" font-family="Liberation Serif, serif">(<tspan font-weight="bold">d</tspan>)</text>
<clipPath id="cpe"><rect x="57.0" y="892.7" width="310.90" height="302.80"/></clipPath>
<g clip-path="url(#cpe)">
<polygon points="106.0,1145.7 109.1,1138.1 113.6,1133.6 122.6,1124.5 131.7,1115.5 136.2,1107.9 143.8,1100.4 148.3,1095.8 155.8,1088.3 161.9,1079.2 164.9,1071.7 170.9,1068.7 174.0,1065.7 181.0,1062.6 187.5,1053.6 195.1,1044.5 201.1,1038.5 208.7,1030.9 216.2,1026.4 223.8,1020.4 229.8,1014.3 235.8,1009.8 243.4,1005.3 249.4,997.7 257.0,990.2 261.5,985.7 269.1,976.6 275.1,969.1 282.6,966.0 290.2,961.5 291.8,958.0 298.7,953.9 305.7,947.0 311.2,941.4 314.0,935.9 319.5,934.5 322.0,936.0 320.9,938.7 315.3,947.0 308.4,953.9 305.7,962.2 298.7,966.3 293.2,976.0 287.7,981.6 282.1,988.5 275.2,992.6 268.3,1000.9 261.5,1006.8 258.5,1015.8 252.5,1017.4 244.9,1026.4 238.9,1027.9 235.8,1034.0 229.8,1035.5 223.8,1044.5 219.2,1052.1 219.2,1059.6 213.2,1062.6 207.2,1068.7 201.1,1076.2 193.6,1083.8 190.6,1091.3 184.5,1098.9 178.5,1103.4 167.9,1109.4 163.4,1118.5 157.4,1118.5 148.3,1120.0 142.3,1124.5 133.2,1130.6 122.6,1138.1 113.6,1145.7 109.1,1148.7" fill="#1f77b4" stroke="#fff" stroke-width="2.4" stroke-linejoin="round"/>
<circle cx="110.3" cy="1145.9" r="3.4" fill="#1f77b4"/>
<circle cx="110.6" cy="1141.6" r="3.4" fill="#1f77b4"/>
<circle cx="114.0" cy="1138.7" r="3.4" fill="#1f77b4"/>
<circle cx="117.6" cy="1133.5" r="3.4" fill="#1f77b4"/>
<circle cx="120.2" cy="1131.1" r="3.4" fill="#1f77b4"/>
<circle cx="122.8" cy="1130.5" r="3.4" fill="#1f77b4"/>
<circle cx="127.0" cy="1124.7" r="3.4" fill="#1f77b4"/>
<circle cx="130.8" cy="1122.0" r="3.4" fill="#1f77b4"/>
<circle cx="131.0" cy="1120.8" r="3.4" fill="#1f77b4"/>
<circle cx="134.7" cy="1115.7" r="3.4" fill="#1f77b4"/>
<circle cx="139.2" cy="1111.0" r="3.4" fill="#1f77b4"/>
<circle cx="140.9" cy="1109.0" r="3.4" fill="#1f77b4"/>
<circle cx="144.4" cy="1104.5" r="3.4" fill="#1f77b4"/>
<circle cx="149.3" cy="1100.6" r="3.4" fill="#1f77b4"/>
<circle cx="151.8" cy="1097.3" r="3.4" fill="#1f77b4"/>
<circle cx="155.0" cy="1094.1" r="3.4" fill="#1f77b4"/>
<circle cx="160.0" cy="1088.1" r="3.4" fill="#1f77b4"/>
<circle cx="161.5" cy="1087.3" r="3.4" fill="#1f77b4"/>
<circle cx="164.8" cy="1082.2" r="3.4" fill="#1f77b4"/>
<circle cx="166.2" cy="1080.2" r="3.4" fill="#1f77b4"/>
<circle cx="166.9" cy="1074.7" r="3.4" fill="#1f77b4"/>
<circle cx="167.9" cy="1073.3" r="3.4" fill="#1f77b4"/>
<circle cx="176.4" cy="1069.4" r="3.4" fill="#1f77b4"/>
<circle cx="178.8" cy="1067.8" r="3.4" fill="#1f77b4"/>
<circle cx="180.7" cy="1066.3" r="3.4" fill="#1f77b4"/>
<circle cx="184.6" cy="1062.1" r="3.4" fill="#1f77b4"/>
<circle cx="186.2" cy="1061.5" r="3.4" fill="#1f77b4"/>
<circle cx="189.6" cy="1058.2" r="3.4" fill="#1f77b4"/>
<circle cx="191.3" cy="1053.2" r="3.4" fill="#1f77b4"/>
<circle cx="193.6" cy="1050.4" r="3.4" fill="#1f77b4"/>
<circle cx="198.0" cy="1047.1" r="3.4" fill="#1f77b4"/>
<circle cx="199.7" cy="1044.4" r="3.4" fill="#1f77b4"/>
<circle cx="201.0" cy="1044.2" r="3.4" fill="#1f77b4"/>
<circle cx="206.0" cy="1038.2" r="3.4" fill="#1f77b4"/>
<circle cx="208.6" cy="1036.8" r="3.4" fill="#1f77b4"/>
<circle cx="211.9" cy="1033.5" r="3.4" fill="#1f77b4"/>
<circle cx="217.7" cy="1029.9" r="3.4" fill="#1f77b4"/>
<circle cx="219.2" cy="1029.3" r="3.4" fill="#1f77b4"/>
<circle cx="226.3" cy="1023.7" r="3.4" fill="#1f77b4"/>
<circle cx="227.8" cy="1020.3" r="3.4" fill="#1f77b4"/>
<circle cx="229.9" cy="1019.9" r="3.4" fill="#1f77b4"/>
<circle cx="232.6" cy="1017.4" r="3.4" fill="#1f77b4"/>
<circle cx="235.5" cy="1014.3" r="3.4" fill="#1f77b4"/>
<circle cx="238.6" cy="1012.6" r="3.4" fill="#1f77b4"/>
<circle cx="243.7" cy="1008.7" r="3.4" fill="#1f77b4"/>
<circle cx="247.6" cy="1005.6" r="3.4" fill="#1f77b4"/>
<circle cx="251.6" cy="1001.7" r="3.4" fill="#1f77b4"/>
<circle cx="252.9" cy="998.0" r="3.4" fill="#1f77b4"/>
<circle cx="259.4" cy="993.3" r="3.4" fill="#1f77b4"/>
<circle cx="260.5" cy="992.1" r="3.4" fill="#1f77b4"/>
<circle cx="265.0" cy="988.4" r="3.4" fill="#1f77b4"/>
<circle cx="267.7" cy="984.4" r="3.4" fill="#1f77b4"/>
<circle cx="270.3" cy="980.9" r="3.4" fill="#1f77b4"/>
<circle cx="274.2" cy="977.3" r="3.4" fill="#1f77b4"/>
<circle cx="276.7" cy="973.6" r="3.4" fill="#1f77b4"/>
<circle cx="278.2" cy="971.3" r="3.4" fill="#1f77b4"/>
<circle cx="283.0" cy="968.9" r="3.4" fill="#1f77b4"/>
<circle cx="284.9" cy="968.3" r="3.4" fill="#1f77b4"/>
<circle cx="290.2" cy="965.7" r="3.4" fill="#1f77b4"/>
<circle cx="292.9" cy="961.9" r="3.4" fill="#1f77b4"/>
<circle cx="294.8" cy="959.4" r="3.4" fill="#1f77b4"/>
<circle cx="299.3" cy="958.6" r="3.4" fill="#1f77b4"/>
<circle cx="303.5" cy="953.1" r="3.4" fill="#1f77b4"/>
<circle cx="306.6" cy="950.6" r="3.4" fill="#1f77b4"/>
<circle cx="310.5" cy="947.4" r="3.4" fill="#1f77b4"/>
<circle cx="311.8" cy="945.3" r="3.4" fill="#1f77b4"/>
<circle cx="315.0" cy="942.3" r="3.4" fill="#1f77b4"/>
<circle cx="316.2" cy="939.3" r="3.4" fill="#1f77b4"/>
<circle cx="320.2" cy="938.7" r="3.4" fill="#1f77b4"/>
<circle cx="317.7" cy="936.3" r="3.4" fill="#1f77b4"/>
<circle cx="315.8" cy="938.5" r="3.4" fill="#1f77b4"/>
<circle cx="315.2" cy="941.0" r="3.4" fill="#1f77b4"/>
<circle cx="311.9" cy="944.6" r="3.4" fill="#1f77b4"/>
<circle cx="306.6" cy="950.1" r="3.4" fill="#1f77b4"/>
<circle cx="305.2" cy="955.3" r="3.4" fill="#1f77b4"/>
<circle cx="303.8" cy="957.3" r="3.4" fill="#1f77b4"/>
<circle cx="301.0" cy="961.7" r="3.4" fill="#1f77b4"/>
<circle cx="299.4" cy="960.9" r="3.4" fill="#1f77b4"/>
<circle cx="294.6" cy="965.9" r="3.4" fill="#1f77b4"/>
<circle cx="291.9" cy="969.7" r="3.4" fill="#1f77b4"/>
<circle cx="289.9" cy="973.2" r="3.4" fill="#1f77b4"/>
<circle cx="289.1" cy="973.9" r="3.4" fill="#1f77b4"/>
<circle cx="285.7" cy="978.9" r="3.4" fill="#1f77b4"/>
<circle cx="284.9" cy="980.5" r="3.4" fill="#1f77b4"/>
<circle cx="282.0" cy="983.6" r="3.4" fill="#1f77b4"/>
<circle cx="279.7" cy="985.9" r="3.4" fill="#1f77b4"/>
<circle cx="275.3" cy="988.0" r="3.4" fill="#1f77b4"/>
<circle cx="270.6" cy="993.8" r="3.4" fill="#1f77b4"/>
<circle cx="268.7" cy="994.7" r="3.4" fill="#1f77b4"/>
<circle cx="263.3" cy="999.8" r="3.4" fill="#1f77b4"/>
<circle cx="260.1" cy="1002.6" r="3.4" fill="#1f77b4"/>
<circle cx="257.5" cy="1005.9" r="3.4" fill="#1f77b4"/>
<circle cx="256.1" cy="1014.7" r="3.4" fill="#1f77b4"/>
<circle cx="255.9" cy="1012.1" r="3.4" fill="#1f77b4"/>
<circle cx="249.2" cy="1015.6" r="3.4" fill="#1f77b4"/>
<circle cx="247.6" cy="1018.7" r="3.4" fill="#1f77b4"/>
<circle cx="243.5" cy="1021.6" r="3.4" fill="#1f77b4"/>
<circle cx="242.8" cy="1023.3" r="3.4" fill="#1f77b4"/>
<circle cx="232.9" cy="1032.2" r="3.4" fill="#1f77b4"/>
<circle cx="234.1" cy="1030.0" r="3.4" fill="#1f77b4"/>
<circle cx="226.5" cy="1035.4" r="3.4" fill="#1f77b4"/>
<circle cx="225.5" cy="1037.2" r="3.4" fill="#1f77b4"/>
<circle cx="222.4" cy="1041.5" r="3.4" fill="#1f77b4"/>
<circle cx="219.7" cy="1044.3" r="3.4" fill="#1f77b4"/>
<circle cx="216.5" cy="1048.7" r="3.4" fill="#1f77b4"/>
<circle cx="215.9" cy="1052.7" r="3.4" fill="#1f77b4"/>
<circle cx="216.2" cy="1057.3" r="3.4" fill="#1f77b4"/>
<circle cx="214.8" cy="1058.1" r="3.4" fill="#1f77b4"/>
<circle cx="208.1" cy="1062.7" r="3.4" fill="#1f77b4"/>
<circle cx="206.6" cy="1063.4" r="3.4" fill="#1f77b4"/>
<circle cx="202.1" cy="1069.2" r="3.4" fill="#1f77b4"/>
<circle cx="198.2" cy="1073.4" r="3.4" fill="#1f77b4"/>
<circle cx="196.9" cy="1074.5" r="3.4" fill="#1f77b4"/>
<circle cx="194.8" cy="1078.4" r="3.4" fill="#1f77b4"/>
<circle cx="189.1" cy="1084.6" r="3.4" fill="#1f77b4"/>
<circle cx="187.2" cy="1088.5" r="3.4" fill="#1f77b4"/>
<circle cx="185.9" cy="1091.7" r="3.4" fill="#1f77b4"/>
<circle cx="181.6" cy="1096.3" r="3.4" fill="#1f77b4"/>
<circle cx="180.4" cy="1097.8" r="3.4" fill="#1f77b4"/>
<circle cx="178.3" cy="1098.4" r="3.4" fill="#1f77b4"/>
<circle cx="174.5" cy="1101.2" r="3.4" fill="#1f77b4"/>
<circle cx="173.0" cy="1102.3" r="3.4" fill="#1f77b4"/>
<circle cx="167.4" cy="1106.0" r="3.4" fill="#1f77b4"/>
<circle cx="163.0" cy="1110.0" r="3.4" fill="#1f77b4"/>
<circle cx="160.6" cy="1114.9" r="3.4" fill="#1f77b4"/>
<circle cx="161.9" cy="1114.5" r="3.4" fill="#1f77b4"/>
<circle cx="156.5" cy="1114.5" r="3.4" fill="#1f77b4"/>
<circle cx="151.3" cy="1116.2" r="3.4" fill="#1f77b4"/>
<circle cx="145.3" cy="1117.2" r="3.4" fill="#1f77b4"/>
<circle cx="140.0" cy="1121.2" r="3.4" fill="#1f77b4"/>
<circle cx="140.0" cy="1122.0" r="3.4" fill="#1f77b4"/>
<circle cx="136.5" cy="1123.9" r="3.4" fill="#1f77b4"/>
<circle cx="133.4" cy="1126.0" r="3.4" fill="#1f77b4"/>
<circle cx="130.2" cy="1127.9" r="3.4" fill="#1f77b4"/>
<circle cx="125.3" cy="1131.3" r="3.4" fill="#1f77b4"/>
<circle cx="122.9" cy="1134.7" r="3.4" fill="#1f77b4"/>
<circle cx="119.8" cy="1136.4" r="3.4" fill="#1f77b4"/>
<circle cx="115.0" cy="1139.8" r="3.4" fill="#1f77b4"/>
<circle cx="113.5" cy="1141.5" r="3.4" fill="#1f77b4"/>
<circle cx="110.2" cy="1144.6" r="3.4" fill="#1f77b4"/>
<circle cx="108.8" cy="1142.9" r="3.4" fill="#1f77b4"/>
<circle cx="109.1" cy="1158.5" r="3.4" fill="#1f77b4"/>
<circle cx="148.3" cy="1143.4" r="3.4" fill="#1f77b4"/>
<circle cx="149.8" cy="1138.1" r="3.4" fill="#1f77b4"/>
<circle cx="149.8" cy="1133.6" r="3.4" fill="#1f77b4"/>
<circle cx="143.8" cy="1127.5" r="3.4" fill="#1f77b4"/>
<circle cx="142.3" cy="1132.1" r="3.4" fill="#1f77b4"/>
<circle cx="146.8" cy="1131.3" r="3.4" fill="#1f77b4"/>
<circle cx="160.4" cy="1130.6" r="3.4" fill="#1f77b4"/>
<circle cx="162.6" cy="1131.3" r="3.4" fill="#1f77b4"/>
<circle cx="158.9" cy="1123.0" r="3.4" fill="#1f77b4"/>
<circle cx="174.7" cy="1110.9" r="3.4" fill="#1f77b4"/>
<circle cx="179.2" cy="1106.4" r="3.4" fill="#1f77b4"/>
<circle cx="166.4" cy="1109.4" r="3.4" fill="#1f77b4"/>
<circle cx="146.8" cy="1122.3" r="3.4" fill="#1f77b4"/>
<circle cx="198.1" cy="1034.7" r="3.4" fill="#1f77b4"/>
<circle cx="300.8" cy="945.6" r="3.4" fill="#1f77b4"/>
<circle cx="320.9" cy="929.7" r="3.4" fill="#1f77b4"/>
<circle cx="340.3" cy="917.9" r="3.4" fill="#1f77b4"/>
<circle cx="333.3" cy="933.1" r="3.4" fill="#1f77b4"/>
<circle cx="336.8" cy="931.7" r="3.4" fill="#1f77b4"/>
<circle cx="345.8" cy="926.9" r="3.4" fill="#1f77b4"/>
<circle cx="345.1" cy="934.5" r="3.4" fill="#1f77b4"/>
<circle cx="307.7" cy="971.2" r="3.4" fill="#1f77b4"/>
<circle cx="277.3" cy="969.1" r="3.4" fill="#1f77b4"/>
<circle cx="270.4" cy="976.7" r="3.4" fill="#1f77b4"/>
<circle cx="280.8" cy="989.9" r="3.4" fill="#1f77b4"/>
<line x1="71.20" y1="1181.80" x2="354.00" y2="906.60" stroke="#000" stroke-width="3.5" stroke-dasharray="13 6.7"/>
</g>
<rect x="57.0" y="892.7" width="310.90" height="302.80" fill="none" stroke="#404040" stroke-width="1.05"/>
<line x1="71.20" y1="1195.50" x2="71.20" y2="1199.00" stroke="#222" stroke-width="0.9"/>
<line x1="53.50" y1="1181.80" x2="57.00" y2="1181.80" stroke="#222" stroke-width="0.9"/>
<text x="71.20" y="1212.10" text-anchor="middle" font-size="15.6" fill="#111" stroke="#111" stroke-width="0.3" font-family="Liberation Sans, sans-serif" textLength="23.5" lengthAdjust="spacingAndGlyphs">0.0</text>
<text x="50.26" y="1186.60" text-anchor="end" font-size="15.6" fill="#111" stroke="#111" stroke-width="0.3" font-family="Liberation Sans, sans-serif" textLength="23.5" lengthAdjust="spacingAndGlyphs">0.0</text>
<line x1="127.76" y1="1195.50" x2="127.76" y2="1199.00" stroke="#222" stroke-width="0.9"/>
<line x1="53.50" y1="1126.76" x2="57.00" y2="1126.76" stroke="#222" stroke-width="0.9"/>
<text x="127.76" y="1212.10" text-anchor="middle" font-size="15.6" fill="#111" stroke="#111" stroke-width="0.3" font-family="Liberation Sans, sans-serif" textLength="23.5" lengthAdjust="spacingAndGlyphs">0.2</text>
<text x="50.26" y="1131.56" text-anchor="end" font-size="15.6" fill="#111" stroke="#111" stroke-width="0.3" font-family="Liberation Sans, sans-serif" textLength="23.5" lengthAdjust="spacingAndGlyphs">0.2</text>
<line x1="184.32" y1="1195.50" x2="184.32" y2="1199.00" stroke="#222" stroke-width="0.9"/>
<line x1="53.50" y1="1071.72" x2="57.00" y2="1071.72" stroke="#222" stroke-width="0.9"/>
<text x="184.32" y="1212.10" text-anchor="middle" font-size="15.6" fill="#111" stroke="#111" stroke-width="0.3" font-family="Liberation Sans, sans-serif" textLength="23.5" lengthAdjust="spacingAndGlyphs">0.4</text>
<text x="50.26" y="1076.52" text-anchor="end" font-size="15.6" fill="#111" stroke="#111" stroke-width="0.3" font-family="Liberation Sans, sans-serif" textLength="23.5" lengthAdjust="spacingAndGlyphs">0.4</text>
<line x1="240.88" y1="1195.50" x2="240.88" y2="1199.00" stroke="#222" stroke-width="0.9"/>
<line x1="53.50" y1="1016.68" x2="57.00" y2="1016.68" stroke="#222" stroke-width="0.9"/>
<text x="240.88" y="1212.10" text-anchor="middle" font-size="15.6" fill="#111" stroke="#111" stroke-width="0.3" font-family="Liberation Sans, sans-serif" textLength="23.5" lengthAdjust="spacingAndGlyphs">0.6</text>
<text x="50.26" y="1021.48" text-anchor="end" font-size="15.6" fill="#111" stroke="#111" stroke-width="0.3" font-family="Liberation Sans, sans-serif" textLength="23.5" lengthAdjust="spacingAndGlyphs">0.6</text>
<line x1="297.44" y1="1195.50" x2="297.44" y2="1199.00" stroke="#222" stroke-width="0.9"/>
<line x1="53.50" y1="961.64" x2="57.00" y2="961.64" stroke="#222" stroke-width="0.9"/>
<text x="297.44" y="1212.10" text-anchor="middle" font-size="15.6" fill="#111" stroke="#111" stroke-width="0.3" font-family="Liberation Sans, sans-serif" textLength="23.5" lengthAdjust="spacingAndGlyphs">0.8</text>
<text x="50.26" y="966.44" text-anchor="end" font-size="15.6" fill="#111" stroke="#111" stroke-width="0.3" font-family="Liberation Sans, sans-serif" textLength="23.5" lengthAdjust="spacingAndGlyphs">0.8</text>
<line x1="354.00" y1="1195.50" x2="354.00" y2="1199.00" stroke="#222" stroke-width="0.9"/>
<line x1="53.50" y1="906.60" x2="57.00" y2="906.60" stroke="#222" stroke-width="0.9"/>
<text x="353.10" y="1212.10" text-anchor="middle" font-size="15.6" fill="#111" stroke="#111" stroke-width="0.3" font-family="Liberation Sans, sans-serif" textLength="22.1" lengthAdjust="spacingAndGlyphs">1.0</text>
<text x="49.60" y="911.40" text-anchor="end" font-size="15.6" fill="#111" stroke="#111" stroke-width="0.3" font-family="Liberation Sans, sans-serif" textLength="22.1" lengthAdjust="spacingAndGlyphs">1.0</text>
<text x="212.45" y="1230.00" text-anchor="middle" font-size="15.6" fill="#111" stroke="#111" stroke-width="0.3" font-family="Liberation Sans, sans-serif" textLength="181.7" lengthAdjust="spacingAndGlyphs">Temperature predictions</text>
<text transform="translate(19.00,1044.50) rotate(-90)" text-anchor="middle" font-size="15.6" fill="#111" stroke="#111" stroke-width="0.3" font-family="Liberation Sans, sans-serif" textLength="195.4" lengthAdjust="spacingAndGlyphs">Temperature observations</text>
<rect x="66.50" y="901.70" width="115.3" height="42.2" rx="4.5" fill="#fff" fill-opacity="0.8" stroke="#999" stroke-width="1.05"/>
<text x="71.20" y="918.70" font-size="15.6" font-style="italic" fill="#111" stroke="#111" stroke-width="0.3" font-family="Liberation Sans, sans-serif" textLength="9.4" lengthAdjust="spacingAndGlyphs">R</text>
<text x="82.40" y="914.00" font-size="10.7" fill="#111" stroke="#111" stroke-width="0.3" font-family="Liberation Sans, sans-serif">2</text>
<rect x="95.20" y="913.00" width="9.5" height="1.2" fill="#111"/>
<rect x="95.20" y="915.80" width="9.5" height="1.2" fill="#111"/>
<text x="111.24" y="918.70" font-size="15.6" fill="#111" stroke="#111" stroke-width="0.3" font-family="Liberation Sans, sans-serif" textLength="42.49" lengthAdjust="spacingAndGlyphs">0.981</text>
<text x="70.63" y="936.30" font-size="15.6" fill="#111" stroke="#111" stroke-width="0.3" font-family="Liberation Sans, sans-serif" textLength="41.07" lengthAdjust="spacingAndGlyphs">RMSE</text>
<rect x="118.60" y="930.80" width="9.6" height="1.2" fill="#111"/>
<rect x="118.60" y="933.80" width="9.6" height="1.2" fill="#111"/>
<text x="134.55" y="936.30" font-size="15.6" fill="#111" stroke="#111" stroke-width="0.3" font-family="Liberation Sans, sans-serif" textLength="41.69" lengthAdjust="spacingAndGlyphs">0.027</text>
<text x="206.70" y="1276.00" text-anchor="middle" font-size="18" fill="#111" font-family="Liberation Serif, serif">(<tspan font-weight="bold">e</tspan>)</text>
<clipPath id="cpf"><rect x="474.5" y="892.7" width="310.90" height="302.80"/></clipPath>
<g clip-path="url(#cpf)">
<polygon points="509.1,1155.7 515.1,1148.1 522.6,1143.6 527.2,1136.0 531.7,1127.0 537.7,1124.0 540.8,1114.9 548.3,1108.9 551.3,1102.8 558.9,1099.8 560.4,1093.8 566.4,1089.2 572.5,1084.7 575.5,1077.2 581.5,1072.6 587.5,1068.1 593.6,1063.6 597.5,1062.1 603.6,1051.5 609.6,1045.5 615.7,1036.4 624.7,1033.4 627.7,1027.4 636.8,1019.8 642.8,1013.8 650.4,1006.2 657.9,1003.2 665.5,1000.2 671.5,989.6 677.5,986.6 683.3,978.8 688.8,974.6 695.8,973.3 706.8,965.0 712.4,956.7 716.5,952.5 722.0,947.0 726.2,940.0 733.1,937.3 738.7,937.3 742.8,941.4 733.1,951.1 730.3,955.3 719.3,962.2 712.4,969.1 705.4,977.4 697.1,983.0 695.7,986.6 691.1,998.7 685.1,1004.7 676.0,1013.8 667.0,1021.3 662.5,1028.9 654.9,1033.4 648.9,1039.4 647.4,1050.0 636.8,1057.5 629.2,1066.6 620.2,1072.0 612.0,1080.0 604.0,1086.0 593.6,1098.3 584.5,1107.4 577.0,1116.4 570.9,1119.4 564.9,1122.5 558.9,1127.0 549.8,1133.0 542.3,1146.6 533.2,1151.1 524.2,1152.6 518.1,1158.7 512.1,1166.2" fill="#1f77b4" stroke="#fff" stroke-width="2.4" stroke-linejoin="round"/>
<circle cx="514.6" cy="1154.6" r="3.4" fill="#1f77b4"/>
<circle cx="515.6" cy="1154.4" r="3.4" fill="#1f77b4"/>
<circle cx="517.4" cy="1151.0" r="3.4" fill="#1f77b4"/>
<circle cx="522.8" cy="1147.1" r="3.4" fill="#1f77b4"/>
<circle cx="527.6" cy="1141.6" r="3.4" fill="#1f77b4"/>
<circle cx="529.5" cy="1140.6" r="3.4" fill="#1f77b4"/>
<circle cx="531.9" cy="1134.2" r="3.4" fill="#1f77b4"/>
<circle cx="534.7" cy="1129.6" r="3.4" fill="#1f77b4"/>
<circle cx="536.6" cy="1129.5" r="3.4" fill="#1f77b4"/>
<circle cx="541.3" cy="1124.0" r="3.4" fill="#1f77b4"/>
<circle cx="542.8" cy="1120.0" r="3.4" fill="#1f77b4"/>
<circle cx="545.6" cy="1116.5" r="3.4" fill="#1f77b4"/>
<circle cx="548.0" cy="1113.1" r="3.4" fill="#1f77b4"/>
<circle cx="551.7" cy="1110.2" r="3.4" fill="#1f77b4"/>
<circle cx="554.8" cy="1106.1" r="3.4" fill="#1f77b4"/>
<circle cx="559.1" cy="1103.6" r="3.4" fill="#1f77b4"/>
<circle cx="563.2" cy="1097.3" r="3.4" fill="#1f77b4"/>
<circle cx="564.0" cy="1095.2" r="3.4" fill="#1f77b4"/>
<circle cx="567.5" cy="1093.2" r="3.4" fill="#1f77b4"/>
<circle cx="569.7" cy="1091.7" r="3.4" fill="#1f77b4"/>
<circle cx="571.7" cy="1088.7" r="3.4" fill="#1f77b4"/>
<circle cx="577.1" cy="1082.9" r="3.4" fill="#1f77b4"/>
<circle cx="577.8" cy="1080.3" r="3.4" fill="#1f77b4"/>
<circle cx="579.7" cy="1079.1" r="3.4" fill="#1f77b4"/>
<circle cx="582.6" cy="1075.4" r="3.4" fill="#1f77b4"/>
<circle cx="586.1" cy="1073.4" r="3.4" fill="#1f77b4"/>
<circle cx="589.1" cy="1072.0" r="3.4" fill="#1f77b4"/>
<circle cx="592.5" cy="1069.9" r="3.4" fill="#1f77b4"/>
<circle cx="594.6" cy="1067.5" r="3.4" fill="#1f77b4"/>
<circle cx="597.9" cy="1065.8" r="3.4" fill="#1f77b4"/>
<circle cx="602.3" cy="1060.5" r="3.4" fill="#1f77b4"/>
<circle cx="602.4" cy="1060.1" r="3.4" fill="#1f77b4"/>
<circle cx="606.9" cy="1053.8" r="3.4" fill="#1f77b4"/>
<circle cx="606.8" cy="1053.5" r="3.4" fill="#1f77b4"/>
<circle cx="610.3" cy="1050.2" r="3.4" fill="#1f77b4"/>
<circle cx="613.4" cy="1047.5" r="3.4" fill="#1f77b4"/>
<circle cx="615.0" cy="1043.3" r="3.4" fill="#1f77b4"/>
<circle cx="618.6" cy="1039.1" r="3.4" fill="#1f77b4"/>
<circle cx="618.1" cy="1039.8" r="3.4" fill="#1f77b4"/>
<circle cx="622.2" cy="1038.4" r="3.4" fill="#1f77b4"/>
<circle cx="630.1" cy="1028.7" r="3.4" fill="#1f77b4"/>
<circle cx="631.8" cy="1027.5" r="3.4" fill="#1f77b4"/>
<circle cx="634.5" cy="1027.4" r="3.4" fill="#1f77b4"/>
<circle cx="638.1" cy="1023.3" r="3.4" fill="#1f77b4"/>
<circle cx="641.3" cy="1019.8" r="3.4" fill="#1f77b4"/>
<circle cx="644.3" cy="1018.2" r="3.4" fill="#1f77b4"/>
<circle cx="647.2" cy="1014.4" r="3.4" fill="#1f77b4"/>
<circle cx="650.6" cy="1011.9" r="3.4" fill="#1f77b4"/>
<circle cx="651.7" cy="1009.2" r="3.4" fill="#1f77b4"/>
<circle cx="659.0" cy="1006.3" r="3.4" fill="#1f77b4"/>
<circle cx="660.2" cy="1005.5" r="3.4" fill="#1f77b4"/>
<circle cx="665.1" cy="1004.6" r="3.4" fill="#1f77b4"/>
<circle cx="670.2" cy="999.1" r="3.4" fill="#1f77b4"/>
<circle cx="671.4" cy="996.9" r="3.4" fill="#1f77b4"/>
<circle cx="673.4" cy="993.1" r="3.4" fill="#1f77b4"/>
<circle cx="674.0" cy="992.3" r="3.4" fill="#1f77b4"/>
<circle cx="682.4" cy="987.2" r="3.4" fill="#1f77b4"/>
<circle cx="684.5" cy="984.4" r="3.4" fill="#1f77b4"/>
<circle cx="686.6" cy="980.8" r="3.4" fill="#1f77b4"/>
<circle cx="690.3" cy="977.0" r="3.4" fill="#1f77b4"/>
<circle cx="698.6" cy="974.5" r="3.4" fill="#1f77b4"/>
<circle cx="705.2" cy="971.2" r="3.4" fill="#1f77b4"/>
<circle cx="707.5" cy="968.9" r="3.4" fill="#1f77b4"/>
<circle cx="710.6" cy="966.0" r="3.4" fill="#1f77b4"/>
<circle cx="714.4" cy="960.5" r="3.4" fill="#1f77b4"/>
<circle cx="715.5" cy="958.9" r="3.4" fill="#1f77b4"/>
<circle cx="719.7" cy="954.4" r="3.4" fill="#1f77b4"/>
<circle cx="724.6" cy="949.8" r="3.4" fill="#1f77b4"/>
<circle cx="726.4" cy="947.6" r="3.4" fill="#1f77b4"/>
<circle cx="727.5" cy="944.5" r="3.4" fill="#1f77b4"/>
<circle cx="728.4" cy="943.0" r="3.4" fill="#1f77b4"/>
<circle cx="730.8" cy="941.3" r="3.4" fill="#1f77b4"/>
<circle cx="737.5" cy="940.9" r="3.4" fill="#1f77b4"/>
<circle cx="738.5" cy="942.9" r="3.4" fill="#1f77b4"/>
<circle cx="738.3" cy="941.2" r="3.4" fill="#1f77b4"/>
<circle cx="735.0" cy="944.3" r="3.4" fill="#1f77b4"/>
<circle cx="732.9" cy="946.1" r="3.4" fill="#1f77b4"/>
<circle cx="730.3" cy="950.0" r="3.4" fill="#1f77b4"/>
<circle cx="725.7" cy="954.8" r="3.4" fill="#1f77b4"/>
<circle cx="723.5" cy="956.4" r="3.4" fill="#1f77b4"/>
<circle cx="720.5" cy="958.1" r="3.4" fill="#1f77b4"/>
<circle cx="714.1" cy="961.4" r="3.4" fill="#1f77b4"/>
<circle cx="712.6" cy="963.4" r="3.4" fill="#1f77b4"/>
<circle cx="709.3" cy="967.6" r="3.4" fill="#1f77b4"/>
<circle cx="706.7" cy="970.0" r="3.4" fill="#1f77b4"/>
<circle cx="704.4" cy="972.7" r="3.4" fill="#1f77b4"/>
<circle cx="701.4" cy="975.9" r="3.4" fill="#1f77b4"/>
<circle cx="696.7" cy="979.8" r="3.4" fill="#1f77b4"/>
<circle cx="692.0" cy="984.3" r="3.4" fill="#1f77b4"/>
<circle cx="692.2" cy="988.3" r="3.4" fill="#1f77b4"/>
<circle cx="689.1" cy="993.0" r="3.4" fill="#1f77b4"/>
<circle cx="687.3" cy="997.2" r="3.4" fill="#1f77b4"/>
<circle cx="686.5" cy="997.2" r="3.4" fill="#1f77b4"/>
<circle cx="684.9" cy="998.8" r="3.4" fill="#1f77b4"/>
<circle cx="681.9" cy="1003.5" r="3.4" fill="#1f77b4"/>
<circle cx="677.7" cy="1007.2" r="3.4" fill="#1f77b4"/>
<circle cx="673.1" cy="1010.5" r="3.4" fill="#1f77b4"/>
<circle cx="670.7" cy="1012.6" r="3.4" fill="#1f77b4"/>
<circle cx="668.5" cy="1014.5" r="3.4" fill="#1f77b4"/>
<circle cx="665.5" cy="1017.5" r="3.4" fill="#1f77b4"/>
<circle cx="662.5" cy="1023.7" r="3.4" fill="#1f77b4"/>
<circle cx="661.0" cy="1025.5" r="3.4" fill="#1f77b4"/>
<circle cx="657.8" cy="1027.7" r="3.4" fill="#1f77b4"/>
<circle cx="654.7" cy="1028.7" r="3.4" fill="#1f77b4"/>
<circle cx="650.7" cy="1032.9" r="3.4" fill="#1f77b4"/>
<circle cx="647.4" cy="1035.7" r="3.4" fill="#1f77b4"/>
<circle cx="645.1" cy="1042.2" r="3.4" fill="#1f77b4"/>
<circle cx="643.6" cy="1049.4" r="3.4" fill="#1f77b4"/>
<circle cx="645.5" cy="1047.4" r="3.4" fill="#1f77b4"/>
<circle cx="640.1" cy="1051.9" r="3.4" fill="#1f77b4"/>
<circle cx="636.7" cy="1054.0" r="3.4" fill="#1f77b4"/>
<circle cx="633.5" cy="1054.7" r="3.4" fill="#1f77b4"/>
<circle cx="630.1" cy="1061.3" r="3.4" fill="#1f77b4"/>
<circle cx="627.4" cy="1064.1" r="3.4" fill="#1f77b4"/>
<circle cx="624.9" cy="1065.7" r="3.4" fill="#1f77b4"/>
<circle cx="623.1" cy="1066.8" r="3.4" fill="#1f77b4"/>
<circle cx="616.1" cy="1072.2" r="3.4" fill="#1f77b4"/>
<circle cx="613.3" cy="1073.6" r="3.4" fill="#1f77b4"/>
<circle cx="610.2" cy="1077.7" r="3.4" fill="#1f77b4"/>
<circle cx="606.5" cy="1080.1" r="3.4" fill="#1f77b4"/>
<circle cx="604.0" cy="1080.6" r="3.4" fill="#1f77b4"/>
<circle cx="600.6" cy="1084.5" r="3.4" fill="#1f77b4"/>
<circle cx="598.2" cy="1088.6" r="3.4" fill="#1f77b4"/>
<circle cx="595.7" cy="1090.7" r="3.4" fill="#1f77b4"/>
<circle cx="592.0" cy="1093.6" r="3.4" fill="#1f77b4"/>
<circle cx="590.0" cy="1096.0" r="3.4" fill="#1f77b4"/>
<circle cx="587.6" cy="1100.1" r="3.4" fill="#1f77b4"/>
<circle cx="582.4" cy="1104.2" r="3.4" fill="#1f77b4"/>
<circle cx="579.5" cy="1106.7" r="3.4" fill="#1f77b4"/>
<circle cx="577.3" cy="1109.9" r="3.4" fill="#1f77b4"/>
<circle cx="574.8" cy="1112.5" r="3.4" fill="#1f77b4"/>
<circle cx="573.4" cy="1114.7" r="3.4" fill="#1f77b4"/>
<circle cx="565.9" cy="1118.4" r="3.4" fill="#1f77b4"/>
<circle cx="561.8" cy="1120.1" r="3.4" fill="#1f77b4"/>
<circle cx="557.4" cy="1124.3" r="3.4" fill="#1f77b4"/>
<circle cx="556.2" cy="1123.8" r="3.4" fill="#1f77b4"/>
<circle cx="553.1" cy="1125.6" r="3.4" fill="#1f77b4"/>
<circle cx="549.3" cy="1129.9" r="3.4" fill="#1f77b4"/>
<circle cx="544.5" cy="1133.8" r="3.4" fill="#1f77b4"/>
<circle cx="544.5" cy="1134.7" r="3.4" fill="#1f77b4"/>
<circle cx="542.0" cy="1138.3" r="3.4" fill="#1f77b4"/>
<circle cx="540.7" cy="1143.6" r="3.4" fill="#1f77b4"/>
<circle cx="539.1" cy="1144.9" r="3.4" fill="#1f77b4"/>
<circle cx="532.3" cy="1148.4" r="3.4" fill="#1f77b4"/>
<circle cx="532.1" cy="1147.0" r="3.4" fill="#1f77b4"/>
<circle cx="527.8" cy="1148.6" r="3.4" fill="#1f77b4"/>
<circle cx="521.0" cy="1149.6" r="3.4" fill="#1f77b4"/>
<circle cx="516.0" cy="1155.8" r="3.4" fill="#1f77b4"/>
<circle cx="515.3" cy="1156.8" r="3.4" fill="#1f77b4"/>
<circle cx="510.7" cy="1161.0" r="3.4" fill="#1f77b4"/>
<circle cx="514.1" cy="1162.2" r="3.4" fill="#1f77b4"/>
<circle cx="513.0" cy="1159.0" r="3.4" fill="#1f77b4"/>
<circle cx="512.6" cy="1156.1" r="3.4" fill="#1f77b4"/>
<circle cx="531.7" cy="1120.9" r="3.4" fill="#1f77b4"/>
<circle cx="564.2" cy="1086.2" r="3.4" fill="#1f77b4"/>
<circle cx="592.8" cy="1056.0" r="3.4" fill="#1f77b4"/>
<circle cx="552.8" cy="1103.6" r="3.4" fill="#1f77b4"/>
<circle cx="615.5" cy="1082.5" r="3.4" fill="#1f77b4"/>
<circle cx="607.9" cy="1091.5" r="3.4" fill="#1f77b4"/>
<circle cx="599.6" cy="1093.8" r="3.4" fill="#1f77b4"/>
<circle cx="598.9" cy="1104.3" r="3.4" fill="#1f77b4"/>
<circle cx="575.5" cy="1131.5" r="3.4" fill="#1f77b4"/>
<circle cx="562.6" cy="1135.3" r="3.4" fill="#1f77b4"/>
<circle cx="549.8" cy="1141.3" r="3.4" fill="#1f77b4"/>
<circle cx="547.5" cy="1160.2" r="3.4" fill="#1f77b4"/>
<circle cx="531.7" cy="1150.4" r="3.4" fill="#1f77b4"/>
<circle cx="582.3" cy="1108.1" r="3.4" fill="#1f77b4"/>
<circle cx="593.0" cy="1056.0" r="3.4" fill="#1f77b4"/>
<circle cx="617.9" cy="1026.6" r="3.4" fill="#1f77b4"/>
<circle cx="670.8" cy="979.1" r="3.4" fill="#1f77b4"/>
<circle cx="652.6" cy="1004.7" r="3.4" fill="#1f77b4"/>
<circle cx="645.1" cy="1013.8" r="3.4" fill="#1f77b4"/>
<circle cx="682.4" cy="1026.6" r="3.4" fill="#1f77b4"/>
<circle cx="664.7" cy="1026.6" r="3.4" fill="#1f77b4"/>
<circle cx="635.3" cy="1053.0" r="3.4" fill="#1f77b4"/>
<circle cx="642.1" cy="1060.6" r="3.4" fill="#1f77b4"/>
<circle cx="615.7" cy="1082.5" r="3.4" fill="#1f77b4"/>
<circle cx="697.8" cy="954.6" r="3.4" fill="#1f77b4"/>
<circle cx="697.8" cy="967.0" r="3.4" fill="#1f77b4"/>
<circle cx="742.8" cy="926.2" r="3.4" fill="#1f77b4"/>
<circle cx="750.4" cy="920.7" r="3.4" fill="#1f77b4"/>
<circle cx="509.2" cy="1172.7" r="3.4" fill="#1f77b4"/>
<circle cx="513.5" cy="1174.5" r="3.4" fill="#1f77b4"/>
<line x1="488.00" y1="1181.80" x2="772.00" y2="906.60" stroke="#000" stroke-width="3.5" stroke-dasharray="13 6.7"/>
</g>
<rect x="474.5" y="892.7" width="310.90" height="302.80" fill="none" stroke="#404040" stroke-width="1.05"/>
<line x1="488.00" y1="1195.50" x2="488.00" y2="1199.00" stroke="#222" stroke-width="0.9"/>
<line x1="471.00" y1="1181.80" x2="474.50" y2="1181.80" stroke="#222" stroke-width="0.9"/>
<text x="488.00" y="1212.10" text-anchor="middle" font-size="15.6" fill="#111" stroke="#111" stroke-width="0.3" font-family="Liberation Sans, sans-serif" textLength="23.5" lengthAdjust="spacingAndGlyphs">0.0</text>
<text x="467.76" y="1186.60" text-anchor="end" font-size="15.6" fill="#111" stroke="#111" stroke-width="0.3" font-family="Liberation Sans, sans-serif" textLength="23.5" lengthAdjust="spacingAndGlyphs">0.0</text>
<line x1="544.80" y1="1195.50" x2="544.80" y2="1199.00" stroke="#222" stroke-width="0.9"/>
<line x1="471.00" y1="1126.76" x2="474.50" y2="1126.76" stroke="#222" stroke-width="0.9"/>
<text x="544.80" y="1212.10" text-anchor="middle" font-size="15.6" fill="#111" stroke="#111" stroke-width="0.3" font-family="Liberation Sans, sans-serif" textLength="23.5" lengthAdjust="spacingAndGlyphs">0.2</text>
<text x="467.76" y="1131.56" text-anchor="end" font-size="15.6" fill="#111" stroke="#111" stroke-width="0.3" font-family="Liberation Sans, sans-serif" textLength="23.5" lengthAdjust="spacingAndGlyphs">0.2</text>
<line x1="601.60" y1="1195.50" x2="601.60" y2="1199.00" stroke="#222" stroke-width="0.9"/>
<line x1="471.00" y1="1071.72" x2="474.50" y2="1071.72" stroke="#222" stroke-width="0.9"/>
<text x="601.60" y="1212.10" text-anchor="middle" font-size="15.6" fill="#111" stroke="#111" stroke-width="0.3" font-family="Liberation Sans, sans-serif" textLength="23.5" lengthAdjust="spacingAndGlyphs">0.4</text>
<text x="467.76" y="1076.52" text-anchor="end" font-size="15.6" fill="#111" stroke="#111" stroke-width="0.3" font-family="Liberation Sans, sans-serif" textLength="23.5" lengthAdjust="spacingAndGlyphs">0.4</text>
<line x1="658.40" y1="1195.50" x2="658.40" y2="1199.00" stroke="#222" stroke-width="0.9"/>
<line x1="471.00" y1="1016.68" x2="474.50" y2="1016.68" stroke="#222" stroke-width="0.9"/>
<text x="658.40" y="1212.10" text-anchor="middle" font-size="15.6" fill="#111" stroke="#111" stroke-width="0.3" font-family="Liberation Sans, sans-serif" textLength="23.5" lengthAdjust="spacingAndGlyphs">0.6</text>
<text x="467.76" y="1021.48" text-anchor="end" font-size="15.6" fill="#111" stroke="#111" stroke-width="0.3" font-family="Liberation Sans, sans-serif" textLength="23.5" lengthAdjust="spacingAndGlyphs">0.6</text>
<line x1="715.20" y1="1195.50" x2="715.20" y2="1199.00" stroke="#222" stroke-width="0.9"/>
<line x1="471.00" y1="961.64" x2="474.50" y2="961.64" stroke="#222" stroke-width="0.9"/>
<text x="715.20" y="1212.10" text-anchor="middle" font-size="15.6" fill="#111" stroke="#111" stroke-width="0.3" font-family="Liberation Sans, sans-serif" textLength="23.5" lengthAdjust="spacingAndGlyphs">0.8</text>
<text x="467.76" y="966.44" text-anchor="end" font-size="15.6" fill="#111" stroke="#111" stroke-width="0.3" font-family="Liberation Sans, sans-serif" textLength="23.5" lengthAdjust="spacingAndGlyphs">0.8</text>
<line x1="772.00" y1="1195.50" x2="772.00" y2="1199.00" stroke="#222" stroke-width="0.9"/>
<line x1="471.00" y1="906.60" x2="474.50" y2="906.60" stroke="#222" stroke-width="0.9"/>
<text x="771.10" y="1212.10" text-anchor="middle" font-size="15.6" fill="#111" stroke="#111" stroke-width="0.3" font-family="Liberation Sans, sans-serif" textLength="22.1" lengthAdjust="spacingAndGlyphs">1.0</text>
<text x="467.10" y="911.40" text-anchor="end" font-size="15.6" fill="#111" stroke="#111" stroke-width="0.3" font-family="Liberation Sans, sans-serif" textLength="22.1" lengthAdjust="spacingAndGlyphs">1.0</text>
<text x="629.95" y="1230.00" text-anchor="middle" font-size="15.6" fill="#111" stroke="#111" stroke-width="0.3" font-family="Liberation Sans, sans-serif" textLength="218.0" lengthAdjust="spacingAndGlyphs">Relative humidity predictions</text>
<text transform="translate(436.50,1044.50) rotate(-90)" text-anchor="middle" font-size="15.6" fill="#111" stroke="#111" stroke-width="0.3" font-family="Liberation Sans, sans-serif" textLength="232.3" lengthAdjust="spacingAndGlyphs">Relative humidity observations</text>
<rect x="484.00" y="901.70" width="115.3" height="42.2" rx="4.5" fill="#fff" fill-opacity="0.8" stroke="#999" stroke-width="1.05"/>
<text x="488.70" y="918.70" font-size="15.6" font-style="italic" fill="#111" stroke="#111" stroke-width="0.3" font-family="Liberation Sans, sans-serif" textLength="9.4" lengthAdjust="spacingAndGlyphs">R</text>
<text x="499.90" y="914.00" font-size="10.7" fill="#111" stroke="#111" stroke-width="0.3" font-family="Liberation Sans, sans-serif">2</text>
<rect x="512.70" y="913.00" width="9.5" height="1.2" fill="#111"/>
<rect x="512.70" y="915.80" width="9.5" height="1.2" fill="#111"/>
<text x="528.74" y="918.70" font-size="15.6" fill="#111" stroke="#111" stroke-width="0.3" font-family="Liberation Sans, sans-serif" textLength="33.0" lengthAdjust="spacingAndGlyphs">0.97</text>
<text x="488.13" y="936.30" font-size="15.6" fill="#111" stroke="#111" stroke-width="0.3" font-family="Liberation Sans, sans-serif" textLength="41.07" lengthAdjust="spacingAndGlyphs">RMSE</text>
<rect x="536.10" y="930.80" width="9.6" height="1.2" fill="#111"/>
<rect x="536.10" y="933.80" width="9.6" height="1.2" fill="#111"/>
<text x="552.05" y="936.30" font-size="15.6" fill="#111" stroke="#111" stroke-width="0.3" font-family="Liberation Sans, sans-serif" textLength="41.69" lengthAdjust="spacingAndGlyphs">0.033</text>
<text x="624.00" y="1276.00" text-anchor="middle" font-size="18" fill="#111" font-family="Liberation Serif, serif">(<tspan font-weight="bold">f</tspan>)</text>
</svg>
</body></html>
